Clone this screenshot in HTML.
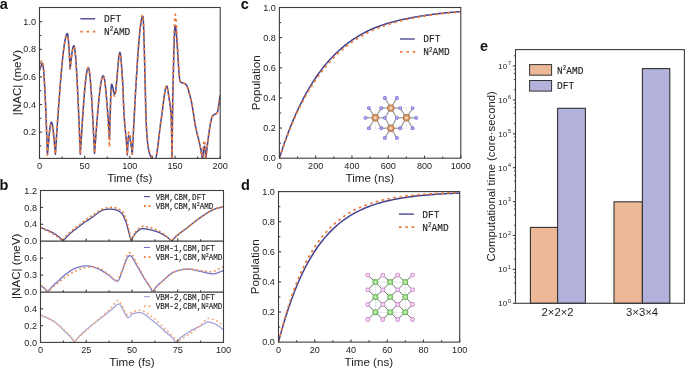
<!DOCTYPE html>
<html><head><meta charset="utf-8"><style>
html,body{margin:0;padding:0;background:#fff;width:685px;height:369px;overflow:hidden}
svg{display:block;will-change:transform}
</style></head><body>
<svg width="685" height="369" viewBox="0 0 685 369"><defs><clipPath id="ca"><rect x="39.5" y="7.5" width="180.7" height="150.9"/></clipPath></defs>
<g clip-path="url(#ca)">
<path d="M39.5,70.41 L39.83,69.59 L40.16,68.65 L40.49,67.66 L40.83,66.67 L41.16,65.73 L41.49,64.9 L41.82,64.25 L42.15,63.81 L42.48,63.65 L42.81,64.25 L43.14,65.98 L43.48,68.76 L43.81,72.52 L44.14,77.17 L44.47,82.63 L44.8,88.81 L45.13,95.65 L45.46,103.06 L45.79,110.95 L46.13,119.25 L46.46,127.87 L46.79,136.73 L47.12,145.76 L47.45,154.87 L47.78,150.79 L48.11,146.77 L48.44,142.86 L48.78,139.12 L49.11,135.61 L49.44,132.38 L49.77,129.5 L50.1,127.01 L50.43,124.97 L50.76,123.45 L51.09,122.5 L51.43,122.16 L51.76,122.49 L52.09,123.42 L52.42,124.92 L52.75,126.91 L53.08,129.34 L53.41,132.17 L53.75,135.33 L54.08,138.76 L54.41,142.42 L54.74,146.25 L55.07,150.19 L55.4,154.18 L55.77,148.7 L56.13,143.23 L56.49,137.78 L56.86,132.36 L57.22,126.98 L57.59,121.65 L57.95,116.38 L58.31,111.18 L58.68,106.06 L59.04,101.03 L59.41,96.11 L59.77,91.29 L60.14,86.6 L60.5,82.03 L60.86,77.61 L61.23,73.34 L61.59,69.22 L61.96,65.28 L62.32,61.53 L62.68,57.96 L63.05,54.59 L63.41,51.44 L63.78,48.5 L64.14,45.8 L64.51,43.34 L64.87,41.13 L65.23,39.19 L65.6,37.51 L65.96,36.12 L66.33,35.02 L66.69,34.22 L67.05,33.73 L67.42,33.57 L67.72,34.2 L68.02,36 L68.32,38.82 L68.62,42.52 L68.92,46.95 L69.23,51.96 L69.53,57.41 L69.83,63.15 L70.13,69.03 L70.47,65.86 L70.8,62.74 L71.14,59.73 L71.48,56.87 L71.81,54.23 L72.15,51.84 L72.49,49.78 L72.82,48.08 L73.16,46.8 L73.5,45.99 L73.83,45.71 L74.18,46.15 L74.52,47.45 L74.86,49.55 L75.2,52.42 L75.54,55.99 L75.89,60.23 L76.23,65.08 L76.57,70.51 L76.91,76.45 L77.26,82.87 L77.6,89.72 L77.94,96.95 L78.28,104.51 L78.63,112.35 L78.97,120.43 L79.31,128.7 L79.65,137.12 L80,145.62 L80.34,154.18 L80.68,148.54 L81.03,142.92 L81.38,137.35 L81.72,131.84 L82.07,126.41 L82.41,121.09 L82.76,115.9 L83.1,110.86 L83.45,105.99 L83.8,101.31 L84.14,96.84 L84.49,92.61 L84.83,88.63 L85.18,84.94 L85.52,81.54 L85.87,78.46 L86.21,75.72 L86.56,73.34 L86.91,71.35 L87.25,69.77 L87.6,68.61 L87.94,67.9 L88.29,67.65 L88.64,68.04 L88.98,69.18 L89.33,71.03 L89.67,73.54 L90.02,76.67 L90.37,80.37 L90.71,84.6 L91.06,89.32 L91.41,94.48 L91.75,100.03 L92.1,105.94 L92.45,112.16 L92.79,118.64 L93.14,125.35 L93.48,132.23 L93.83,139.24 L94.18,146.34 L94.52,153.49 L94.87,148.83 L95.22,144.19 L95.56,139.57 L95.91,135 L96.26,130.49 L96.6,126.06 L96.95,121.71 L97.3,117.47 L97.65,113.35 L97.99,109.36 L98.34,105.52 L98.69,101.85 L99.03,98.35 L99.38,95.05 L99.73,91.96 L100.07,89.09 L100.42,86.46 L100.77,84.08 L101.12,81.97 L101.46,80.15 L101.81,78.62 L102.16,77.41 L102.5,76.52 L102.85,75.98 L103.2,75.8 L103.55,76.09 L103.9,76.93 L104.25,78.3 L104.6,80.16 L104.95,82.48 L105.3,85.22 L105.66,88.36 L106.01,91.85 L106.36,95.68 L106.71,99.79 L107.06,104.17 L107.41,108.78 L107.76,113.59 L108.12,118.56 L108.47,123.66 L108.82,128.85 L109.17,134.12 L109.52,139.41 L109.82,127.7 L110.11,116.46 L110.41,106.18 L110.71,97.35 L111.01,90.45 L111.3,85.96 L111.6,84.35 L111.92,84.63 L112.23,85.37 L112.55,86.47 L112.86,87.8 L113.18,89.25 L113.5,90.7 L113.81,92.03 L114.13,93.13 L114.45,93.88 L114.76,94.15 L115.1,93.62 L115.45,92.12 L115.79,89.8 L116.13,86.82 L116.48,83.31 L116.82,79.43 L117.16,75.33 L117.51,71.16 L117.85,67.05 L118.19,63.18 L118.54,59.67 L118.88,56.68 L119.22,54.37 L119.57,52.87 L119.91,52.34 L120.24,53.01 L120.57,54.88 L120.89,57.75 L121.22,61.42 L121.55,65.67 L121.88,70.31 L122.2,75.14 L122.53,79.94 L122.79,84.53 L123.04,90.49 L123.3,97.17 L123.56,103.91 L123.81,110.07 L124.07,114.99 L124.39,119.77 L124.72,123.86 L125.04,127.46 L125.37,130.76 L125.69,133.94 L126.02,137.2 L126.34,140.73 L126.67,144.73 L126.99,149.37 L127.32,154.87 L127.61,149.19 L127.9,143.97 L128.19,139.68 L128.48,136.76 L128.77,135.69 L129.09,135.91 L129.41,136.55 L129.73,137.56 L130.05,138.91 L130.37,140.55 L130.69,142.44 L131.01,144.54 L131.33,146.8 L131.65,149.19 L131.97,151.67 L132.29,154.18 L132.64,147.3 L132.99,140.43 L133.35,133.59 L133.7,126.8 L134.05,120.07 L134.4,113.41 L134.76,106.85 L135.11,100.4 L135.46,94.06 L135.81,87.87 L136.17,81.83 L136.52,75.95 L136.87,70.26 L137.22,64.77 L137.57,59.49 L137.93,54.45 L138.28,49.64 L138.63,45.1 L138.98,40.84 L139.34,36.86 L139.69,33.19 L140.04,29.84 L140.39,26.83 L140.75,24.17 L141.1,21.88 L141.45,19.97 L141.8,18.45 L142.16,17.35 L142.51,16.68 L142.86,16.46 L143.2,18.67 L143.53,24.81 L143.87,34.1 L144.21,45.78 L144.54,59.08 L144.88,73.24 L145.22,87.48 L145.55,101.05 L145.89,113.17 L146.23,123.09 L146.56,130.03 L146.87,134.44 L147.17,138.36 L147.47,141.77 L147.77,144.63 L148.07,146.94 L148.37,148.66 L148.67,150.03 L148.97,151.3 L149.28,152.47 L149.58,153.52 L149.88,154.46 L150.18,155.28 L150.48,155.97 L150.78,156.52 L151.08,156.94 L151.41,157.31 L151.73,157.66 L152.05,158 L152.38,158.32 L152.7,158.61 L153.02,158.88 L153.35,159.12 L153.67,159.32 L154,159.48 L154.32,159.6 L154.64,159.67 L154.97,159.7 L155.31,159.46 L155.65,158.76 L155.99,157.65 L156.33,156.16 L156.67,154.35 L157.02,152.24 L157.36,149.9 L157.7,147.35 L158.04,144.63 L158.38,141.8 L158.72,138.9 L159.06,135.96 L159.4,133.02 L159.75,130.14 L160.09,127.35 L160.43,124.69 L160.77,122.22 L161.11,119.96 L161.46,117.65 L161.81,115.14 L162.16,112.48 L162.51,109.72 L162.86,106.9 L163.21,104.08 L163.56,101.3 L163.91,98.6 L164.26,96.04 L164.61,93.67 L164.96,91.53 L165.31,89.67 L165.66,88.14 L166.01,86.99 L166.36,86.26 L166.71,86.01 L167.01,86.33 L167.3,87.23 L167.59,88.59 L167.89,90.29 L168.18,92.23 L168.47,94.28 L168.77,96.34 L169.06,98.29 L169.35,100.01 L169.63,101.69 L169.91,103.46 L170.2,105.45 L170.48,107.81 L170.77,110.66 L171.05,114.16 L171.3,119.97 L171.55,130.08 L171.79,143.61 L172.04,159.7 L172.28,136.66 L172.51,117.09 L172.75,100.75 L172.98,87.43 L173.22,76.9 L173.49,66.25 L173.76,55.86 L174.03,46.24 L174.3,37.88 L174.57,31.3 L174.84,26.98 L175.12,25.43 L175.46,26.12 L175.8,28.09 L176.15,31.13 L176.49,35.06 L176.83,39.68 L177.18,44.79 L177.52,50.22 L177.86,55.77 L178.21,61.23 L178.55,66.44 L178.89,71.18 L179.24,75.27 L179.58,78.52 L179.92,80.74 L180.27,81.73 L180.61,82.02 L180.95,82.26 L181.3,82.46 L181.64,82.63 L181.99,82.78 L182.33,82.9 L182.68,83 L183.02,83.1 L183.37,83.2 L183.71,83.3 L184.05,83.41 L184.4,83.54 L184.74,83.69 L185.09,83.87 L185.43,84.09 L185.78,84.35 L186.12,84.7 L186.45,85.18 L186.79,85.79 L187.13,86.5 L187.47,87.33 L187.81,88.25 L188.15,89.25 L188.49,90.34 L188.83,91.49 L189.16,92.69 L189.5,93.95 L189.84,95.25 L190.18,96.57 L190.52,97.92 L190.86,99.28 L191.2,100.64 L191.54,102.12 L191.88,103.83 L192.21,105.73 L192.55,107.79 L192.89,109.95 L193.23,112.19 L193.57,114.47 L193.91,116.75 L194.25,118.98 L194.59,121.14 L194.92,123.18 L195.26,125.06 L195.61,126.85 L195.96,128.54 L196.31,130.14 L196.66,131.66 L197.01,133.13 L197.35,134.55 L197.7,135.93 L198.05,137.3 L198.4,138.66 L198.75,140.04 L199.1,141.43 L199.45,142.86 L199.79,144.35 L200.14,145.89 L200.49,147.52 L200.84,149.24 L201.19,151.06 L201.54,153.01 L201.88,155.08 L202.23,157.31 L202.58,159.7 L202.85,156.82 L203.12,154.06 L203.39,151.54 L203.67,149.37 L203.94,147.67 L204.21,146.57 L204.48,146.18 L204.73,146.93 L204.99,148.99 L205.24,152.02 L205.49,155.7 L205.74,159.7 L206.1,156.41 L206.46,153.17 L206.81,149.99 L207.17,146.89 L207.53,143.87 L207.89,140.94 L208.24,138.11 L208.6,135.4 L208.96,132.81 L209.31,130.36 L209.67,128.05 L210.03,125.9 L210.38,123.92 L210.74,122.11 L211.1,120.48 L211.45,119.06 L211.81,117.84 L212.17,116.84 L212.52,116.07 L212.88,115.54 L213.2,115.21 L213.52,114.94 L213.84,114.73 L214.16,114.56 L214.48,114.41 L214.8,114.28 L215.12,114.16 L215.44,114.04 L215.76,113.89 L216.08,113.72 L216.4,113.51 L216.72,113.24 L217.04,112.92 L217.35,112.29 L217.67,111.19 L217.99,109.69 L218.3,107.88 L218.62,105.85 L218.94,103.67 L219.25,101.44 L219.57,99.24 L219.88,97.15 L220.2,95.25" fill="none" stroke="#40408e" stroke-width="1.5" stroke-linejoin="round" stroke-linecap="butt" />
<path d="M39.5,68.62 L39.8,67.61 L40.1,66.46 L40.4,65.25 L40.7,64.03 L41.01,62.88 L41.31,61.87 L41.61,61.07 L41.91,60.53 L42.21,60.34 L42.56,60.96 L42.91,62.75 L43.26,65.63 L43.61,69.53 L43.96,74.34 L44.31,80 L44.66,86.42 L45.01,93.5 L45.35,101.18 L45.7,109.36 L46.05,117.95 L46.4,126.89 L46.75,136.08 L47.1,145.43 L47.45,154.87 L47.77,151 L48.08,147.18 L48.4,143.47 L48.72,139.92 L49.03,136.59 L49.35,133.52 L49.66,130.78 L49.98,128.42 L50.3,126.49 L50.61,125.04 L50.93,124.13 L51.25,123.82 L51.58,124.13 L51.91,125.01 L52.24,126.43 L52.57,128.32 L52.9,130.63 L53.23,133.31 L53.56,136.3 L53.9,139.56 L54.23,143.03 L54.56,146.66 L54.89,150.39 L55.22,154.18 L55.59,148.79 L55.95,143.4 L56.31,138.04 L56.68,132.71 L57.04,127.41 L57.41,122.17 L57.77,116.98 L58.13,111.87 L58.5,106.83 L58.86,101.89 L59.23,97.04 L59.59,92.3 L59.95,87.68 L60.32,83.19 L60.68,78.83 L61.05,74.63 L61.41,70.59 L61.78,66.71 L62.14,63.01 L62.5,59.5 L62.87,56.19 L63.23,53.08 L63.6,50.2 L63.96,47.54 L64.32,45.12 L64.69,42.94 L65.05,41.03 L65.42,39.38 L65.78,38.01 L66.15,36.93 L66.51,36.14 L66.87,35.66 L67.24,35.5 L67.56,36.09 L67.88,37.77 L68.2,40.41 L68.52,43.86 L68.84,47.99 L69.16,52.67 L69.49,57.76 L69.81,63.12 L70.13,68.62 L70.47,65.62 L70.8,62.66 L71.14,59.81 L71.48,57.11 L71.81,54.6 L72.15,52.35 L72.49,50.39 L72.82,48.78 L73.16,47.57 L73.5,46.81 L73.83,46.54 L74.18,47.03 L74.54,48.46 L74.89,50.78 L75.24,53.92 L75.59,57.84 L75.94,62.49 L76.29,67.79 L76.64,73.71 L77,80.18 L77.35,87.14 L77.7,94.56 L78.05,102.35 L78.4,110.48 L78.75,118.89 L79.1,127.52 L79.45,136.31 L79.81,145.22 L80.16,154.18 L80.51,148.54 L80.86,142.92 L81.22,137.35 L81.57,131.84 L81.93,126.41 L82.28,121.09 L82.63,115.9 L82.99,110.86 L83.34,105.99 L83.69,101.31 L84.05,96.84 L84.4,92.61 L84.75,88.63 L85.11,84.94 L85.46,81.54 L85.81,78.46 L86.17,75.72 L86.52,73.34 L86.87,71.35 L87.23,69.77 L87.58,68.61 L87.94,67.9 L88.29,67.65 L88.64,68.04 L88.98,69.18 L89.33,71.03 L89.67,73.54 L90.02,76.67 L90.37,80.37 L90.71,84.6 L91.06,89.32 L91.41,94.48 L91.75,100.03 L92.1,105.94 L92.45,112.16 L92.79,118.64 L93.14,125.35 L93.48,132.23 L93.83,139.24 L94.18,146.34 L94.52,153.49 L94.87,148.83 L95.22,144.19 L95.56,139.57 L95.91,135 L96.26,130.49 L96.6,126.06 L96.95,121.71 L97.3,117.47 L97.65,113.35 L97.99,109.36 L98.34,105.52 L98.69,101.85 L99.03,98.35 L99.38,95.05 L99.73,91.96 L100.07,89.09 L100.42,86.46 L100.77,84.08 L101.12,81.97 L101.46,80.15 L101.81,78.62 L102.16,77.41 L102.5,76.52 L102.85,75.98 L103.2,75.8 L103.55,76.12 L103.9,77.07 L104.25,78.61 L104.6,80.7 L104.95,83.3 L105.3,86.39 L105.66,89.91 L106.01,93.84 L106.36,98.13 L106.71,102.76 L107.06,107.68 L107.41,112.86 L107.76,118.26 L108.12,123.84 L108.47,129.57 L108.82,135.42 L109.17,141.33 L109.52,147.28 L109.82,135.24 L110.11,123.69 L110.41,113.13 L110.71,104.06 L111.01,96.97 L111.3,92.35 L111.6,90.7 L111.92,90.85 L112.23,91.27 L112.55,91.89 L112.86,92.64 L113.18,93.46 L113.5,94.28 L113.81,95.03 L114.13,95.65 L114.45,96.07 L114.76,96.22 L115.1,95.67 L115.45,94.14 L115.79,91.77 L116.13,88.72 L116.48,85.13 L116.82,81.16 L117.16,76.97 L117.51,72.69 L117.85,68.5 L118.19,64.53 L118.54,60.94 L118.88,57.89 L119.22,55.52 L119.57,53.99 L119.91,53.44 L120.24,54.11 L120.57,56 L120.89,58.89 L121.22,62.57 L121.55,66.83 L121.88,71.47 L122.2,76.28 L122.53,81.04 L122.79,85.53 L123.04,91.29 L123.3,97.73 L123.56,104.22 L123.81,110.18 L124.07,114.99 L124.39,119.72 L124.72,123.79 L125.04,127.38 L125.37,130.67 L125.69,133.86 L126.02,137.14 L126.34,140.69 L126.67,144.71 L126.99,149.37 L127.32,154.87 L127.61,148.13 L127.9,141.94 L128.19,136.84 L128.48,133.38 L128.77,132.1 L129.09,132.37 L129.41,133.13 L129.73,134.34 L130.05,135.95 L130.37,137.91 L130.69,140.16 L131.01,142.67 L131.33,145.37 L131.65,148.22 L131.97,151.18 L132.29,154.18 L132.64,147.21 L132.99,140.26 L133.35,133.34 L133.7,126.47 L134.05,119.66 L134.4,112.92 L134.76,106.28 L135.11,99.75 L135.46,93.34 L135.81,87.07 L136.17,80.96 L136.52,75.01 L136.87,69.25 L137.22,63.7 L137.57,58.36 L137.93,53.25 L138.28,48.39 L138.63,43.79 L138.98,39.47 L139.34,35.45 L139.69,31.73 L140.04,28.35 L140.39,25.3 L140.75,22.61 L141.1,20.28 L141.45,18.35 L141.8,16.82 L142.16,15.71 L142.51,15.03 L142.86,14.8 L143.2,17.05 L143.53,23.28 L143.87,32.7 L144.21,44.54 L144.54,58.01 L144.88,72.33 L145.22,86.72 L145.55,100.4 L145.89,112.58 L146.23,122.49 L146.56,129.34 L146.87,133.63 L147.17,137.43 L147.47,140.72 L147.77,143.47 L148.07,145.67 L148.37,147.28 L148.67,148.53 L148.97,149.65 L149.28,150.66 L149.58,151.56 L149.88,152.36 L150.18,153.09 L150.48,153.74 L150.78,154.33 L151.08,154.87 L151.41,155.43 L151.73,156 L152.05,156.57 L152.38,157.11 L152.7,157.64 L153.02,158.12 L153.35,158.56 L153.67,158.94 L154,159.26 L154.32,159.5 L154.64,159.65 L154.97,159.7 L155.31,159.46 L155.65,158.76 L155.99,157.65 L156.33,156.16 L156.67,154.35 L157.02,152.24 L157.36,149.9 L157.7,147.35 L158.04,144.63 L158.38,141.8 L158.72,138.9 L159.06,135.96 L159.4,133.02 L159.75,130.14 L160.09,127.35 L160.43,124.69 L160.77,122.22 L161.11,119.96 L161.46,117.65 L161.81,115.14 L162.16,112.48 L162.51,109.72 L162.86,106.9 L163.21,104.08 L163.56,101.3 L163.91,98.6 L164.26,96.04 L164.61,93.67 L164.96,91.53 L165.31,89.67 L165.66,88.14 L166.01,86.99 L166.36,86.26 L166.71,86.01 L167.01,86.33 L167.3,87.23 L167.59,88.59 L167.89,90.29 L168.18,92.23 L168.47,94.28 L168.77,96.34 L169.06,98.29 L169.35,100.01 L169.63,101.69 L169.91,103.46 L170.2,105.45 L170.48,107.81 L170.77,110.66 L171.05,114.16 L171.3,119.97 L171.55,130.08 L171.79,143.61 L172.04,159.7 L172.28,136.03 L172.51,116.08 L172.75,99.4 L172.98,85.56 L173.22,74.14 L173.49,62.03 L173.76,50.04 L174.03,38.8 L174.3,28.95 L174.57,21.13 L174.84,15.97 L175.12,14.11 L175.46,14.95 L175.8,17.32 L176.15,20.99 L176.49,25.72 L176.83,31.29 L177.18,37.46 L177.52,43.99 L177.86,50.67 L178.21,57.25 L178.55,63.5 L178.89,69.19 L179.24,74.09 L179.58,77.97 L179.92,80.59 L180.27,81.73 L180.61,82.02 L180.95,82.27 L181.3,82.47 L181.64,82.64 L181.99,82.78 L182.33,82.9 L182.68,83.01 L183.02,83.11 L183.37,83.2 L183.71,83.3 L184.05,83.41 L184.4,83.54 L184.74,83.69 L185.09,83.88 L185.43,84.09 L185.78,84.35 L186.12,84.7 L186.45,85.18 L186.79,85.79 L187.13,86.5 L187.47,87.33 L187.81,88.25 L188.15,89.25 L188.49,90.34 L188.83,91.49 L189.16,92.69 L189.5,93.95 L189.84,95.25 L190.18,96.57 L190.52,97.92 L190.86,99.28 L191.2,100.64 L191.54,102.11 L191.88,103.81 L192.21,105.7 L192.55,107.73 L192.89,109.87 L193.23,112.1 L193.57,114.36 L193.91,116.63 L194.25,118.87 L194.59,121.05 L194.92,123.12 L195.26,125.06 L195.61,126.89 L195.95,128.61 L196.29,130.25 L196.64,131.82 L196.98,133.33 L197.32,134.81 L197.67,136.25 L198.01,137.69 L198.35,139.13 L198.7,140.59 L199.04,142.09 L199.38,143.64 L199.73,145.26 L200.07,146.95 L200.41,148.75 L200.76,150.65 L201.1,152.69 L201.44,154.86 L201.79,157.19 L202.13,159.7 L202.42,156.04 L202.72,152.5 L203.01,149.19 L203.3,146.23 L203.6,143.72 L203.89,141.79 L204.19,140.54 L204.48,140.1 L204.73,141.2 L204.99,144.18 L205.24,148.57 L205.49,153.9 L205.74,159.7 L206.1,156.41 L206.46,153.17 L206.81,149.99 L207.17,146.89 L207.53,143.87 L207.89,140.94 L208.24,138.11 L208.6,135.4 L208.96,132.81 L209.31,130.36 L209.67,128.05 L210.03,125.9 L210.38,123.92 L210.74,122.11 L211.1,120.48 L211.45,119.06 L211.81,117.84 L212.17,116.84 L212.52,116.07 L212.88,115.54 L213.2,115.21 L213.52,114.94 L213.84,114.73 L214.16,114.56 L214.48,114.41 L214.8,114.28 L215.12,114.16 L215.44,114.04 L215.76,113.89 L216.08,113.72 L216.4,113.51 L216.72,113.24 L217.04,112.92 L217.35,112.29 L217.67,111.19 L217.99,109.69 L218.3,107.88 L218.62,105.85 L218.94,103.67 L219.25,101.44 L219.57,99.24 L219.88,97.15 L220.2,95.25" fill="none" stroke="#ea7a3a" stroke-width="1.7" stroke-linejoin="round" stroke-linecap="butt" stroke-dasharray="2.6,3.4" />
</g>
<rect x="39.5" y="7.5" width="180.7" height="150.9" fill="none" stroke="#3c3c3c" stroke-width="1.1"/>
<line x1="39.5" y1="158.4" x2="39.5" y2="155.8" stroke="#3c3c3c" stroke-width="1.1"/>
<text x="39.5" y="168.8" font-size="9.1" text-anchor="middle" font-family='"Liberation Sans", sans-serif' fill="#222222" font-weight="normal" >0</text>
<line x1="62.09" y1="158.4" x2="62.09" y2="156.6" stroke="#3c3c3c" stroke-width="1.1"/>
<line x1="84.67" y1="158.4" x2="84.67" y2="155.8" stroke="#3c3c3c" stroke-width="1.1"/>
<text x="84.67" y="168.8" font-size="9.1" text-anchor="middle" font-family='"Liberation Sans", sans-serif' fill="#222222" font-weight="normal" >50</text>
<line x1="107.26" y1="158.4" x2="107.26" y2="156.6" stroke="#3c3c3c" stroke-width="1.1"/>
<line x1="129.85" y1="158.4" x2="129.85" y2="155.8" stroke="#3c3c3c" stroke-width="1.1"/>
<text x="129.85" y="168.8" font-size="9.1" text-anchor="middle" font-family='"Liberation Sans", sans-serif' fill="#222222" font-weight="normal" >100</text>
<line x1="152.44" y1="158.4" x2="152.44" y2="156.6" stroke="#3c3c3c" stroke-width="1.1"/>
<line x1="175.03" y1="158.4" x2="175.03" y2="155.8" stroke="#3c3c3c" stroke-width="1.1"/>
<text x="175.03" y="168.8" font-size="9.1" text-anchor="middle" font-family='"Liberation Sans", sans-serif' fill="#222222" font-weight="normal" >150</text>
<line x1="197.61" y1="158.4" x2="197.61" y2="156.6" stroke="#3c3c3c" stroke-width="1.1"/>
<line x1="220.2" y1="158.4" x2="220.2" y2="155.8" stroke="#3c3c3c" stroke-width="1.1"/>
<text x="220.2" y="168.8" font-size="9.1" text-anchor="middle" font-family='"Liberation Sans", sans-serif' fill="#222222" font-weight="normal" >200</text>
<line x1="39.5" y1="145.9" x2="41.3" y2="145.9" stroke="#3c3c3c" stroke-width="1.1"/>
<line x1="39.5" y1="132.1" x2="42.1" y2="132.1" stroke="#3c3c3c" stroke-width="1.1"/>
<text x="36" y="135.25" font-size="9.1" text-anchor="end" font-family='"Liberation Sans", sans-serif' fill="#222222" font-weight="normal" >0.2</text>
<line x1="39.5" y1="118.3" x2="41.3" y2="118.3" stroke="#3c3c3c" stroke-width="1.1"/>
<line x1="39.5" y1="104.5" x2="42.1" y2="104.5" stroke="#3c3c3c" stroke-width="1.1"/>
<text x="36" y="107.65" font-size="9.1" text-anchor="end" font-family='"Liberation Sans", sans-serif' fill="#222222" font-weight="normal" >0.4</text>
<line x1="39.5" y1="90.7" x2="41.3" y2="90.7" stroke="#3c3c3c" stroke-width="1.1"/>
<line x1="39.5" y1="76.9" x2="42.1" y2="76.9" stroke="#3c3c3c" stroke-width="1.1"/>
<text x="36" y="80.05" font-size="9.1" text-anchor="end" font-family='"Liberation Sans", sans-serif' fill="#222222" font-weight="normal" >0.6</text>
<line x1="39.5" y1="63.1" x2="41.3" y2="63.1" stroke="#3c3c3c" stroke-width="1.1"/>
<line x1="39.5" y1="49.3" x2="42.1" y2="49.3" stroke="#3c3c3c" stroke-width="1.1"/>
<text x="36" y="52.45" font-size="9.1" text-anchor="end" font-family='"Liberation Sans", sans-serif' fill="#222222" font-weight="normal" >0.8</text>
<line x1="39.5" y1="35.5" x2="41.3" y2="35.5" stroke="#3c3c3c" stroke-width="1.1"/>
<line x1="39.5" y1="21.7" x2="42.1" y2="21.7" stroke="#3c3c3c" stroke-width="1.1"/>
<text x="36" y="24.85" font-size="9.1" text-anchor="end" font-family='"Liberation Sans", sans-serif' fill="#222222" font-weight="normal" >1.0</text>
<text x="129.8" y="181.8" font-size="11.6" text-anchor="middle" font-family='"Liberation Sans", sans-serif' fill="#222222" font-weight="normal" >Time (fs)</text>
<text x="21.3" y="82.5" font-size="11.6" text-anchor="middle" font-family='"Liberation Sans", sans-serif' fill="#222222" font-weight="normal" transform="rotate(-90 21.3 82.5)">|NAC| (meV)</text>
<line x1="80.3" y1="18.8" x2="95.1" y2="18.8" stroke="#42428e" stroke-width="1.35"/>
<line x1="80.3" y1="31.7" x2="95.3" y2="31.7" stroke="#ea7a3a" stroke-width="1.7" stroke-dasharray="2.5,3.8"/>
<text transform="translate(104 22.1) scale(1 1.1)" font-size="9.5" font-family='"Liberation Mono", monospace' fill="#262626" stroke="#262626" stroke-width="0.15">DFT</text>
<text transform="translate(104 35) scale(1 1.1)" font-size="9.5" font-family='"Liberation Mono", monospace' fill="#262626" stroke="#262626" stroke-width="0.15">N<tspan font-size="5.9" dy="-3.3">2</tspan><tspan dy="3.3">AMD</tspan></text>
<text x="-0.3" y="8.5" font-size="14.5" text-anchor="start" font-family='"Liberation Sans", sans-serif' fill="#111" font-weight="bold" >a</text>
<defs><clipPath id="cb1"><rect x="40.5" y="190.5" width="183.0" height="50.650000000000006"/></clipPath><clipPath id="cb2"><rect x="40.5" y="241.15" width="183.0" height="50.95000000000002"/></clipPath><clipPath id="cb3"><rect x="40.5" y="292.1" width="183.0" height="50.299999999999955"/></clipPath></defs>
<g clip-path="url(#cb1)">
<path d="M40.5,227.43 L40.87,227.59 L41.24,227.75 L41.61,227.9 L41.98,228.06 L42.35,228.21 L42.72,228.36 L43.09,228.51 L43.46,228.65 L43.83,228.8 L44.2,228.95 L44.57,229.09 L44.94,229.24 L45.31,229.38 L45.68,229.53 L46.04,229.67 L46.41,229.82 L46.78,229.97 L47.15,230.12 L47.52,230.27 L47.89,230.42 L48.26,230.58 L48.63,230.74 L49,230.9 L49.37,231.06 L49.74,231.23 L50.11,231.4 L50.48,231.57 L50.85,231.75 L51.22,231.94 L51.59,232.12 L51.96,232.31 L52.33,232.51 L52.7,232.71 L53.07,232.92 L53.43,233.13 L53.79,233.33 L54.15,233.55 L54.51,233.76 L54.88,233.98 L55.24,234.21 L55.6,234.44 L55.96,234.67 L56.32,234.91 L56.68,235.16 L57.04,235.41 L57.41,235.67 L57.77,235.93 L58.13,236.21 L58.49,236.49 L58.85,236.79 L59.21,237.09 L59.57,237.4 L59.93,237.72 L60.3,238.05 L60.66,238.4 L61.02,238.75 L61.38,239.12 L61.74,239.5 L62.1,239.89 L62.46,240.3 L62.83,240.72 L63.19,241.15 L63.55,240.66 L63.92,240.18 L64.28,239.71 L64.65,239.25 L65.01,238.8 L65.38,238.37 L65.74,237.94 L66.11,237.53 L66.47,237.12 L66.84,236.72 L67.21,236.34 L67.57,235.96 L67.94,235.59 L68.3,235.22 L68.67,234.87 L69.03,234.52 L69.4,234.18 L69.76,233.84 L70.13,233.52 L70.49,233.19 L70.86,232.88 L71.22,232.56 L71.59,232.26 L71.95,231.96 L72.32,231.66 L72.68,231.37 L73.05,231.08 L73.41,230.79 L73.78,230.51 L74.15,230.22 L74.51,229.95 L74.88,229.67 L75.24,229.39 L75.61,229.12 L75.97,228.85 L76.34,228.58 L76.7,228.3 L77.07,228.03 L77.43,227.76 L77.8,227.49 L78.16,227.21 L78.53,226.94 L78.89,226.66 L79.26,226.38 L79.62,226.1 L79.99,225.82 L80.35,225.53 L80.72,225.25 L81.08,224.97 L81.44,224.69 L81.8,224.42 L82.16,224.15 L82.52,223.88 L82.88,223.61 L83.25,223.35 L83.61,223.09 L83.97,222.83 L84.33,222.57 L84.69,222.32 L85.05,222.06 L85.41,221.81 L85.78,221.56 L86.14,221.32 L86.5,221.07 L86.86,220.83 L87.22,220.58 L87.58,220.34 L87.94,220.1 L88.31,219.86 L88.67,219.62 L89.03,219.38 L89.39,219.15 L89.75,218.91 L90.11,218.67 L90.47,218.43 L90.83,218.2 L91.2,217.96 L91.56,217.72 L91.92,217.48 L92.29,217.23 L92.66,216.97 L93.02,216.71 L93.39,216.44 L93.76,216.16 L94.12,215.88 L94.49,215.6 L94.86,215.32 L95.22,215.03 L95.59,214.75 L95.95,214.46 L96.32,214.18 L96.69,213.9 L97.05,213.61 L97.42,213.34 L97.79,213.06 L98.15,212.79 L98.52,212.53 L98.89,212.27 L99.25,212.02 L99.62,211.77 L99.99,211.54 L100.35,211.31 L100.72,211.1 L101.08,210.89 L101.45,210.69 L101.82,210.51 L102.18,210.34 L102.55,210.19 L102.92,210.04 L103.28,209.92 L103.65,209.81 L104.02,209.71 L104.38,209.64 L104.75,209.58 L105.09,209.53 L105.42,209.49 L105.76,209.45 L106.1,209.41 L106.44,209.38 L106.77,209.35 L107.11,209.32 L107.45,209.29 L107.78,209.27 L108.12,209.25 L108.46,209.23 L108.8,209.22 L109.13,209.21 L109.47,209.2 L109.81,209.2 L110.15,209.2 L110.48,209.21 L110.82,209.22 L111.16,209.23 L111.5,209.25 L111.83,209.27 L112.17,209.29 L112.51,209.32 L112.84,209.35 L113.18,209.38 L113.52,209.42 L113.86,209.45 L114.19,209.49 L114.53,209.53 L114.87,209.58 L115.21,209.63 L115.55,209.7 L115.9,209.79 L116.24,209.9 L116.58,210.01 L116.92,210.15 L117.26,210.3 L117.61,210.46 L117.95,210.64 L118.29,210.83 L118.63,211.03 L118.98,211.25 L119.32,211.47 L119.66,211.71 L120,211.96 L120.35,212.21 L120.69,212.48 L121.03,212.76 L121.37,213.04 L121.71,213.36 L122.04,213.76 L122.38,214.22 L122.72,214.75 L123.05,215.34 L123.39,215.98 L123.72,216.67 L124.06,217.41 L124.39,218.17 L124.73,218.97 L125.06,219.8 L125.4,220.64 L125.74,221.5 L126.07,222.37 L126.42,223.33 L126.76,224.42 L127.11,225.61 L127.45,226.88 L127.8,228.22 L128.14,229.61 L128.49,231.02 L128.83,232.43 L129.18,233.83 L129.52,235.2 L129.87,236.51 L130.12,237.37 L130.37,238.15 L130.63,238.96 L130.88,239.93 L131.13,241.15 L131.48,240.27 L131.83,239.43 L132.18,238.64 L132.53,237.9 L132.87,237.2 L133.22,236.54 L133.57,235.92 L133.92,235.35 L134.27,234.81 L134.62,234.32 L134.96,233.86 L135.31,233.44 L135.66,233.06 L136.01,232.71 L136.35,232.38 L136.69,232.06 L137.03,231.74 L137.38,231.42 L137.72,231.11 L138.06,230.81 L138.4,230.52 L138.74,230.24 L139.08,229.98 L139.42,229.73 L139.76,229.51 L140.11,229.31 L140.45,229.13 L140.79,228.98 L141.13,228.86 L141.47,228.77 L141.81,228.72 L142.15,228.7 L142.52,228.7 L142.88,228.71 L143.24,228.72 L143.6,228.74 L143.96,228.77 L144.32,228.79 L144.68,228.83 L145.05,228.86 L145.41,228.91 L145.77,228.95 L146.13,229 L146.49,229.06 L146.85,229.11 L147.21,229.18 L147.58,229.24 L147.94,229.31 L148.3,229.38 L148.66,229.45 L149.02,229.53 L149.38,229.61 L149.74,229.69 L150.1,229.78 L150.47,229.86 L150.83,229.95 L151.19,230.04 L151.55,230.14 L151.91,230.23 L152.27,230.33 L152.63,230.42 L153,230.52 L153.36,230.62 L153.72,230.72 L154.08,230.82 L154.44,230.92 L154.8,231.02 L155.17,231.12 L155.53,231.23 L155.9,231.35 L156.26,231.47 L156.63,231.59 L156.99,231.72 L157.36,231.86 L157.73,232 L158.09,232.14 L158.46,232.29 L158.82,232.45 L159.19,232.61 L159.55,232.77 L159.92,232.94 L160.28,233.11 L160.65,233.29 L161.01,233.48 L161.38,233.66 L161.74,233.86 L162.11,234.06 L162.47,234.26 L162.84,234.47 L163.2,234.68 L163.57,234.9 L163.93,235.12 L164.3,235.34 L164.66,235.57 L165.03,235.81 L165.4,236.05 L165.76,236.29 L166.13,236.54 L166.49,236.8 L166.86,237.06 L167.22,237.32 L167.59,237.59 L167.95,237.86 L168.32,238.14 L168.68,238.42 L169.05,238.7 L169.41,238.99 L169.78,239.29 L170.14,239.59 L170.51,239.89 L170.87,240.2 L171.24,240.51 L171.6,240.83 L171.97,241.15 L172.34,240.67 L172.71,240.21 L173.08,239.75 L173.45,239.31 L173.82,238.89 L174.19,238.47 L174.56,238.06 L174.93,237.67 L175.3,237.29 L175.67,236.91 L176.04,236.55 L176.41,236.19 L176.78,235.85 L177.15,235.51 L177.52,235.18 L177.89,234.85 L178.26,234.54 L178.63,234.23 L179,233.92 L179.37,233.62 L179.74,233.33 L180.11,233.04 L180.48,232.75 L180.85,232.47 L181.21,232.19 L181.58,231.92 L181.95,231.64 L182.32,231.37 L182.69,231.1 L183.06,230.83 L183.43,230.56 L183.8,230.29 L184.17,230.03 L184.54,229.76 L184.91,229.49 L185.28,229.21 L185.65,228.94 L186.02,228.66 L186.39,228.38 L186.76,228.1 L187.13,227.81 L187.5,227.52 L187.87,227.22 L188.24,226.93 L188.6,226.63 L188.97,226.34 L189.33,226.04 L189.7,225.75 L190.07,225.45 L190.43,225.16 L190.8,224.87 L191.16,224.57 L191.53,224.28 L191.89,223.99 L192.26,223.7 L192.62,223.41 L192.99,223.13 L193.36,222.84 L193.72,222.55 L194.09,222.27 L194.45,221.98 L194.82,221.7 L195.18,221.42 L195.55,221.14 L195.91,220.86 L196.28,220.58 L196.65,220.31 L197.01,220.03 L197.38,219.76 L197.74,219.49 L198.11,219.22 L198.47,218.95 L198.84,218.68 L199.21,218.42 L199.57,218.16 L199.94,217.89 L200.3,217.64 L200.67,217.38 L201.03,217.12 L201.4,216.87 L201.76,216.62 L202.13,216.37 L202.5,216.13 L202.86,215.88 L203.23,215.64 L203.59,215.4 L203.95,215.17 L204.32,214.93 L204.68,214.69 L205.04,214.46 L205.4,214.22 L205.76,213.98 L206.12,213.74 L206.48,213.51 L206.85,213.27 L207.21,213.04 L207.57,212.81 L207.93,212.58 L208.29,212.36 L208.65,212.13 L209.01,211.91 L209.37,211.69 L209.74,211.48 L210.1,211.27 L210.46,211.07 L210.82,210.87 L211.18,210.67 L211.54,210.48 L211.9,210.3 L212.27,210.12 L212.63,209.95 L212.99,209.78 L213.35,209.63 L213.71,209.48 L214.07,209.33 L214.43,209.2 L214.8,209.07 L215.16,208.95 L215.52,208.83 L215.89,208.71 L216.25,208.6 L216.61,208.5 L216.97,208.4 L217.34,208.3 L217.7,208.2 L218.06,208.11 L218.42,208.02 L218.79,207.93 L219.15,207.84 L219.51,207.76 L219.87,207.67 L220.24,207.59 L220.6,207.5 L220.96,207.42 L221.32,207.33 L221.69,207.25 L222.05,207.16 L222.41,207.07 L222.77,206.98 L223.14,206.89 L223.5,206.79" fill="none" stroke="#4a4a94" stroke-width="1.3" stroke-linejoin="round" stroke-linecap="butt" />
<path d="M40.5,227.22 L40.87,227.42 L41.24,227.61 L41.61,227.81 L41.98,228 L42.35,228.19 L42.72,228.38 L43.09,228.56 L43.46,228.75 L43.83,228.93 L44.2,229.12 L44.57,229.3 L44.94,229.49 L45.31,229.67 L45.68,229.86 L46.04,230.04 L46.41,230.23 L46.78,230.42 L47.15,230.61 L47.52,230.8 L47.89,230.99 L48.26,231.18 L48.63,231.38 L49,231.58 L49.37,231.78 L49.74,231.98 L50.11,232.19 L50.48,232.4 L50.85,232.61 L51.22,232.83 L51.59,233.05 L51.96,233.27 L52.33,233.5 L52.7,233.74 L53.07,233.97 L53.43,234.21 L53.79,234.44 L54.15,234.68 L54.51,234.91 L54.88,235.15 L55.24,235.39 L55.6,235.63 L55.96,235.87 L56.32,236.13 L56.68,236.38 L57.04,236.65 L57.41,236.92 L57.77,237.21 L58.13,237.5 L58.49,237.8 L58.85,238.11 L59.21,238.44 L59.57,238.78 L59.93,239.13 L60.3,239.5 L60.66,239.89 L61.02,240.29 L61.38,240.71 L61.74,241.15 L62.11,240.64 L62.49,240.14 L62.86,239.66 L63.23,239.18 L63.6,238.72 L63.98,238.26 L64.35,237.82 L64.72,237.38 L65.09,236.96 L65.46,236.54 L65.84,236.14 L66.21,235.74 L66.58,235.35 L66.95,234.97 L67.33,234.59 L67.7,234.23 L68.07,233.87 L68.44,233.51 L68.81,233.17 L69.19,232.83 L69.56,232.49 L69.93,232.16 L70.3,231.84 L70.68,231.52 L71.05,231.21 L71.42,230.9 L71.79,230.59 L72.16,230.29 L72.54,229.99 L72.91,229.69 L73.28,229.4 L73.65,229.11 L74.03,228.82 L74.4,228.54 L74.77,228.25 L75.14,227.97 L75.52,227.69 L75.89,227.41 L76.26,227.13 L76.63,226.84 L77,226.56 L77.38,226.28 L77.75,226 L78.12,225.72 L78.49,225.43 L78.87,225.14 L79.24,224.85 L79.61,224.56 L79.98,224.27 L80.35,223.97 L80.72,223.67 L81.1,223.38 L81.47,223.09 L81.84,222.79 L82.21,222.5 L82.58,222.21 L82.95,221.93 L83.32,221.64 L83.69,221.36 L84.06,221.08 L84.43,220.8 L84.8,220.52 L85.17,220.24 L85.54,219.97 L85.91,219.69 L86.28,219.42 L86.66,219.15 L87.03,218.88 L87.4,218.62 L87.77,218.35 L88.14,218.09 L88.51,217.83 L88.88,217.57 L89.25,217.31 L89.62,217.06 L89.99,216.81 L90.36,216.56 L90.73,216.31 L91.1,216.06 L91.47,215.82 L91.84,215.58 L92.22,215.34 L92.59,215.1 L92.96,214.86 L93.33,214.63 L93.7,214.4 L94.07,214.17 L94.44,213.94 L94.81,213.71 L95.17,213.49 L95.53,213.27 L95.89,213.04 L96.26,212.81 L96.62,212.58 L96.98,212.34 L97.34,212.11 L97.7,211.87 L98.06,211.64 L98.42,211.4 L98.79,211.17 L99.15,210.94 L99.51,210.72 L99.87,210.49 L100.23,210.28 L100.59,210.06 L100.95,209.86 L101.32,209.66 L101.68,209.46 L102.04,209.28 L102.4,209.1 L102.76,208.94 L103.12,208.78 L103.48,208.63 L103.85,208.5 L104.21,208.38 L104.57,208.26 L104.93,208.17 L105.29,208.08 L105.65,208.02 L106,207.96 L106.36,207.9 L106.71,207.85 L107.06,207.79 L107.41,207.74 L107.76,207.69 L108.11,207.65 L108.46,207.61 L108.81,207.57 L109.17,207.53 L109.52,207.5 L109.87,207.47 L110.22,207.44 L110.57,207.42 L110.92,207.41 L111.27,207.39 L111.63,207.39 L111.98,207.38 L112.33,207.39 L112.69,207.41 L113.04,207.43 L113.4,207.47 L113.75,207.52 L114.11,207.57 L114.46,207.64 L114.82,207.71 L115.17,207.8 L115.53,207.89 L115.88,207.99 L116.24,208.1 L116.59,208.22 L116.95,208.35 L117.3,208.48 L117.66,208.62 L118.01,208.77 L118.37,208.92 L118.72,209.08 L119.08,209.25 L119.43,209.42 L119.79,209.59 L120.14,209.78 L120.5,209.96 L120.85,210.16 L121.21,210.35 L121.56,210.55 L121.92,210.76 L122.26,211.02 L122.61,211.39 L122.96,211.87 L123.31,212.43 L123.65,213.08 L124,213.8 L124.35,214.59 L124.7,215.42 L125.04,216.3 L125.39,217.21 L125.74,218.15 L126.09,219.09 L126.43,220.05 L126.76,221.02 L127.09,222.12 L127.42,223.34 L127.75,224.66 L128.08,226.04 L128.4,227.48 L128.73,228.96 L129.06,230.45 L129.39,231.94 L129.72,233.4 L130.05,234.82 L130.34,235.96 L130.63,237.02 L130.91,238.14 L131.2,239.47 L131.49,241.15 L131.84,240.09 L132.19,239.09 L132.54,238.13 L132.89,237.24 L133.24,236.39 L133.58,235.59 L133.93,234.85 L134.28,234.15 L134.63,233.51 L134.98,232.91 L135.33,232.37 L135.67,231.87 L136.02,231.42 L136.37,231.02 L136.72,230.64 L137.07,230.26 L137.43,229.88 L137.78,229.51 L138.13,229.15 L138.48,228.8 L138.83,228.46 L139.18,228.14 L139.53,227.84 L139.89,227.56 L140.24,227.3 L140.59,227.07 L140.94,226.87 L141.29,226.7 L141.64,226.56 L141.99,226.46 L142.34,226.4 L142.7,226.38 L143.06,226.38 L143.42,226.39 L143.78,226.41 L144.14,226.43 L144.5,226.46 L144.86,226.5 L145.23,226.54 L145.59,226.59 L145.95,226.64 L146.31,226.7 L146.67,226.76 L147.03,226.83 L147.39,226.91 L147.76,226.99 L148.12,227.07 L148.48,227.15 L148.84,227.25 L149.2,227.34 L149.56,227.44 L149.92,227.54 L150.29,227.64 L150.65,227.75 L151.01,227.86 L151.37,227.98 L151.73,228.09 L152.09,228.21 L152.45,228.33 L152.82,228.45 L153.18,228.57 L153.54,228.7 L153.9,228.82 L154.26,228.95 L154.62,229.08 L154.98,229.2 L155.35,229.33 L155.72,229.47 L156.08,229.61 L156.45,229.76 L156.82,229.91 L157.19,230.08 L157.56,230.24 L157.93,230.42 L158.3,230.6 L158.67,230.79 L159.04,230.99 L159.41,231.19 L159.78,231.4 L160.15,231.62 L160.52,231.84 L160.89,232.07 L161.26,232.31 L161.63,232.55 L162,232.8 L162.37,233.06 L162.74,233.32 L163.11,233.59 L163.48,233.87 L163.85,234.15 L164.22,234.44 L164.59,234.74 L164.96,235.04 L165.33,235.35 L165.7,235.66 L166.07,235.99 L166.44,236.31 L166.81,236.65 L167.18,236.99 L167.55,237.34 L167.92,237.69 L168.29,238.05 L168.66,238.42 L169.03,238.79 L169.4,239.17 L169.77,239.55 L170.14,239.94 L170.51,240.34 L170.88,240.74 L171.25,241.15 L171.62,240.69 L171.99,240.25 L172.36,239.81 L172.72,239.39 L173.09,238.98 L173.46,238.58 L173.83,238.2 L174.2,237.82 L174.57,237.45 L174.94,237.09 L175.31,236.74 L175.68,236.4 L176.05,236.06 L176.42,235.74 L176.79,235.42 L177.16,235.11 L177.53,234.8 L177.9,234.5 L178.27,234.21 L178.64,233.92 L179.01,233.64 L179.37,233.36 L179.74,233.08 L180.11,232.81 L180.48,232.54 L180.85,232.28 L181.22,232.02 L181.59,231.75 L181.96,231.49 L182.33,231.24 L182.7,230.98 L183.07,230.72 L183.44,230.46 L183.81,230.21 L184.18,229.95 L184.55,229.69 L184.92,229.43 L185.29,229.16 L185.65,228.9 L186.02,228.63 L186.39,228.35 L186.76,228.08 L187.13,227.8 L187.5,227.51 L187.87,227.22 L188.24,226.93 L188.6,226.64 L188.97,226.35 L189.33,226.06 L189.7,225.77 L190.07,225.48 L190.43,225.19 L190.8,224.9 L191.16,224.61 L191.53,224.32 L191.89,224.03 L192.26,223.75 L192.62,223.46 L192.99,223.17 L193.36,222.89 L193.72,222.6 L194.09,222.32 L194.45,222.03 L194.82,221.75 L195.18,221.47 L195.55,221.19 L195.91,220.91 L196.28,220.63 L196.65,220.35 L197.01,220.07 L197.38,219.8 L197.74,219.53 L198.11,219.26 L198.47,218.99 L198.84,218.72 L199.21,218.45 L199.57,218.18 L199.94,217.92 L200.3,217.66 L200.67,217.4 L201.03,217.14 L201.4,216.89 L201.76,216.63 L202.13,216.38 L202.5,216.13 L202.86,215.89 L203.23,215.64 L203.59,215.4 L203.95,215.16 L204.32,214.93 L204.68,214.69 L205.04,214.44 L205.4,214.2 L205.76,213.96 L206.12,213.72 L206.48,213.48 L206.85,213.25 L207.21,213.01 L207.57,212.77 L207.93,212.54 L208.29,212.31 L208.65,212.08 L209.01,211.86 L209.37,211.64 L209.74,211.42 L210.1,211.21 L210.46,211 L210.82,210.79 L211.18,210.59 L211.54,210.4 L211.9,210.21 L212.27,210.03 L212.63,209.85 L212.99,209.68 L213.35,209.52 L213.71,209.36 L214.07,209.21 L214.43,209.07 L214.8,208.94 L215.16,208.81 L215.52,208.68 L215.89,208.57 L216.25,208.45 L216.61,208.34 L216.97,208.23 L217.34,208.13 L217.7,208.03 L218.06,207.93 L218.42,207.83 L218.79,207.74 L219.15,207.65 L219.51,207.56 L219.87,207.47 L220.24,207.38 L220.6,207.29 L220.96,207.2 L221.32,207.11 L221.69,207.02 L222.05,206.93 L222.41,206.83 L222.77,206.74 L223.14,206.64 L223.5,206.54" fill="none" stroke="#e8803c" stroke-width="1.6" stroke-linejoin="round" stroke-linecap="butt" stroke-dasharray="2,2.5" />
</g>
<g clip-path="url(#cb2)">
<path d="M40.5,285.31 L40.85,285.62 L41.2,285.93 L41.55,286.22 L41.9,286.5 L42.24,286.78 L42.59,287.05 L42.94,287.32 L43.29,287.59 L43.64,287.86 L43.99,288.14 L44.34,288.42 L44.69,288.71 L45.04,289.02 L45.39,289.33 L45.73,289.66 L46.08,290.01 L46.43,290.38 L46.78,290.77 L47.13,291.19 L47.48,291.63 L47.83,292.1 L48.2,291.53 L48.56,290.98 L48.93,290.45 L49.3,289.94 L49.67,289.45 L50.03,288.99 L50.4,288.54 L50.77,288.1 L51.14,287.68 L51.5,287.28 L51.87,286.89 L52.24,286.51 L52.61,286.14 L52.97,285.78 L53.34,285.43 L53.71,285.09 L54.08,284.75 L54.45,284.42 L54.81,284.09 L55.18,283.77 L55.55,283.44 L55.92,283.12 L56.28,282.8 L56.65,282.47 L57.02,282.14 L57.39,281.81 L57.75,281.47 L58.12,281.13 L58.49,280.78 L58.85,280.43 L59.21,280.08 L59.57,279.73 L59.93,279.38 L60.3,279.03 L60.66,278.68 L61.02,278.33 L61.38,277.99 L61.74,277.65 L62.1,277.31 L62.46,276.98 L62.83,276.65 L63.19,276.33 L63.55,276.01 L63.91,275.7 L64.27,275.39 L64.63,275.09 L64.99,274.79 L65.36,274.51 L65.72,274.23 L66.08,273.96 L66.44,273.7 L66.8,273.44 L67.16,273.19 L67.52,272.93 L67.89,272.67 L68.25,272.41 L68.61,272.16 L68.97,271.9 L69.33,271.65 L69.69,271.4 L70.05,271.15 L70.42,270.91 L70.78,270.66 L71.14,270.43 L71.5,270.2 L71.86,269.97 L72.22,269.75 L72.58,269.54 L72.95,269.33 L73.31,269.13 L73.67,268.94 L74.03,268.76 L74.39,268.59 L74.75,268.42 L75.11,268.27 L75.48,268.12 L75.84,267.99 L76.2,267.87 L76.56,267.76 L76.92,267.65 L77.28,267.55 L77.64,267.45 L78.01,267.35 L78.37,267.24 L78.73,267.15 L79.09,267.05 L79.45,266.95 L79.81,266.86 L80.17,266.77 L80.53,266.68 L80.9,266.59 L81.26,266.51 L81.62,266.43 L81.98,266.36 L82.34,266.28 L82.7,266.22 L83.06,266.16 L83.43,266.1 L83.79,266.04 L84.15,266 L84.51,265.95 L84.87,265.92 L85.23,265.89 L85.59,265.86 L85.96,265.85 L86.32,265.84 L86.68,265.83 L87.05,265.84 L87.41,265.85 L87.78,265.88 L88.15,265.91 L88.52,265.95 L88.88,266 L89.25,266.06 L89.62,266.12 L89.99,266.19 L90.35,266.27 L90.72,266.36 L91.09,266.45 L91.46,266.54 L91.82,266.65 L92.19,266.75 L92.56,266.86 L92.93,266.98 L93.29,267.1 L93.66,267.22 L94.03,267.34 L94.39,267.47 L94.76,267.6 L95.13,267.73 L95.5,267.86 L95.86,267.99 L96.23,268.13 L96.6,268.26 L96.97,268.4 L97.33,268.53 L97.7,268.66 L98.07,268.8 L98.44,268.95 L98.8,269.11 L99.17,269.27 L99.54,269.45 L99.91,269.64 L100.27,269.83 L100.64,270.03 L101.01,270.24 L101.38,270.45 L101.74,270.67 L102.11,270.89 L102.48,271.12 L102.85,271.36 L103.21,271.6 L103.58,271.84 L103.95,272.08 L104.32,272.33 L104.68,272.58 L105.05,272.83 L105.42,273.08 L105.78,273.33 L106.15,273.58 L106.52,273.83 L106.89,274.08 L107.25,274.33 L107.62,274.57 L107.99,274.81 L108.36,275.05 L108.72,275.29 L109.09,275.53 L109.45,275.79 L109.81,276.06 L110.17,276.36 L110.53,276.66 L110.89,276.97 L111.25,277.29 L111.62,277.61 L111.98,277.94 L112.34,278.26 L112.7,278.58 L113.06,278.89 L113.42,279.19 L113.78,279.48 L114.15,279.76 L114.51,280.01 L114.87,280.25 L115.23,280.46 L115.59,280.65 L115.95,280.81 L116.31,280.94 L116.68,281.04 L117.04,281.1 L117.4,281.12 L117.75,281.03 L118.1,280.78 L118.45,280.38 L118.8,279.85 L119.15,279.2 L119.51,278.45 L119.86,277.61 L120.21,276.69 L120.56,275.71 L120.91,274.69 L121.26,273.63 L121.61,272.56 L121.97,271.49 L122.32,270.43 L122.67,269.4 L123.02,268.41 L123.37,267.48 L123.72,266.62 L124.05,265.82 L124.39,264.97 L124.72,264.08 L125.05,263.18 L125.38,262.27 L125.71,261.38 L126.04,260.52 L126.37,259.7 L126.7,258.95 L127.04,258.27 L127.37,257.69 L127.7,257.23 L127.98,256.88 L128.27,256.55 L128.55,256.24 L128.83,255.98 L129.12,255.77 L129.4,255.63 L129.69,255.59 L130.04,255.63 L130.39,255.75 L130.75,255.95 L131.1,256.22 L131.45,256.55 L131.8,256.94 L132.16,257.39 L132.51,257.88 L132.86,258.41 L133.22,258.98 L133.57,259.58 L133.92,260.21 L134.28,260.85 L134.63,261.51 L134.98,262.18 L135.34,262.85 L135.69,263.52 L136.04,264.18 L136.4,264.82 L136.75,265.45 L137.1,266.05 L137.46,266.62 L137.81,267.18 L138.16,267.76 L138.51,268.35 L138.86,268.95 L139.21,269.56 L139.56,270.17 L139.92,270.8 L140.27,271.43 L140.62,272.07 L140.97,272.7 L141.32,273.34 L141.67,273.98 L142.02,274.62 L142.37,275.25 L142.73,275.88 L143.08,276.5 L143.43,277.12 L143.78,277.72 L144.14,278.32 L144.5,278.9 L144.86,279.46 L145.23,280 L145.59,280.52 L145.95,281.04 L146.31,281.54 L146.67,282.04 L147.03,282.54 L147.39,283.04 L147.76,283.55 L148.12,284.06 L148.48,284.59 L148.84,285.13 L149.2,285.69 L149.56,286.27 L149.92,286.88 L150.29,287.51 L150.65,288.18 L151.01,288.88 L151.37,289.62 L151.73,290.4 L152.09,291.23 L152.45,292.1 L152.82,291.51 L153.18,290.95 L153.54,290.41 L153.9,289.89 L154.26,289.38 L154.62,288.9 L154.98,288.43 L155.35,287.98 L155.71,287.54 L156.07,287.12 L156.43,286.72 L156.79,286.32 L157.15,285.94 L157.51,285.57 L157.88,285.21 L158.24,284.85 L158.6,284.51 L158.96,284.17 L159.32,283.83 L159.68,283.51 L160.04,283.18 L160.4,282.86 L160.77,282.54 L161.13,282.23 L161.49,281.91 L161.85,281.59 L162.21,281.27 L162.57,280.95 L162.93,280.62 L163.3,280.29 L163.66,279.96 L164.02,279.63 L164.38,279.29 L164.74,278.96 L165.1,278.62 L165.46,278.28 L165.83,277.95 L166.19,277.61 L166.55,277.28 L166.91,276.95 L167.27,276.63 L167.63,276.3 L167.99,275.99 L168.36,275.67 L168.72,275.36 L169.08,275.06 L169.44,274.77 L169.8,274.48 L170.16,274.2 L170.52,273.92 L170.89,273.66 L171.25,273.4 L171.61,273.16 L171.97,272.93 L172.33,272.7 L172.69,272.49 L173.05,272.29 L173.42,272.1 L173.78,271.93 L174.14,271.77 L174.5,271.63 L174.86,271.5 L175.22,271.38 L175.58,271.27 L175.95,271.17 L176.31,271.06 L176.67,270.96 L177.03,270.86 L177.39,270.76 L177.75,270.66 L178.11,270.56 L178.48,270.47 L178.84,270.38 L179.2,270.28 L179.56,270.2 L179.92,270.11 L180.28,270.03 L180.64,269.94 L181,269.87 L181.37,269.79 L181.73,269.72 L182.09,269.65 L182.45,269.58 L182.81,269.52 L183.17,269.46 L183.53,269.4 L183.9,269.35 L184.26,269.3 L184.62,269.26 L184.98,269.22 L185.34,269.18 L185.7,269.15 L186.06,269.12 L186.43,269.1 L186.79,269.08 L187.15,269.07 L187.51,269.06 L187.87,269.06 L188.24,269.06 L188.6,269.07 L188.97,269.09 L189.34,269.12 L189.71,269.15 L190.07,269.19 L190.44,269.23 L190.81,269.28 L191.17,269.34 L191.54,269.4 L191.91,269.46 L192.27,269.53 L192.64,269.6 L193.01,269.68 L193.37,269.76 L193.74,269.84 L194.11,269.92 L194.47,270.01 L194.84,270.1 L195.21,270.19 L195.57,270.28 L195.94,270.37 L196.31,270.46 L196.67,270.55 L197.04,270.64 L197.41,270.73 L197.77,270.82 L198.14,270.91 L198.51,270.99 L198.87,271.08 L199.24,271.16 L199.61,271.23 L199.97,271.31 L200.34,271.38 L200.7,271.45 L201.06,271.52 L201.42,271.6 L201.79,271.68 L202.15,271.77 L202.51,271.85 L202.87,271.94 L203.23,272.03 L203.59,272.12 L203.95,272.21 L204.32,272.3 L204.68,272.4 L205.04,272.49 L205.4,272.58 L205.76,272.67 L206.12,272.76 L206.48,272.85 L206.85,272.94 L207.21,273.03 L207.57,273.11 L207.93,273.19 L208.29,273.26 L208.65,273.34 L209.01,273.41 L209.37,273.47 L209.74,273.53 L210.1,273.59 L210.46,273.64 L210.82,273.68 L211.18,273.72 L211.54,273.75 L211.9,273.78 L212.27,273.8 L212.63,273.81 L212.99,273.81 L213.35,273.81 L213.71,273.78 L214.08,273.75 L214.44,273.7 L214.8,273.64 L215.16,273.57 L215.53,273.48 L215.89,273.39 L216.25,273.29 L216.61,273.18 L216.98,273.06 L217.34,272.94 L217.7,272.81 L218.06,272.67 L218.43,272.53 L218.79,272.39 L219.15,272.25 L219.51,272.1 L219.88,271.95 L220.24,271.8 L220.6,271.66 L220.96,271.51 L221.33,271.36 L221.69,271.22 L222.05,271.09 L222.41,270.95 L222.78,270.82 L223.14,270.7 L223.5,270.59" fill="none" stroke="#7474c8" stroke-width="1.3" stroke-linejoin="round" stroke-linecap="butt" />
<path d="M40.5,284.74 L40.86,285.07 L41.22,285.38 L41.57,285.69 L41.93,285.98 L42.29,286.27 L42.65,286.55 L43,286.83 L43.36,287.11 L43.72,287.39 L44.08,287.67 L44.44,287.96 L44.79,288.26 L45.15,288.56 L45.51,288.88 L45.87,289.21 L46.22,289.56 L46.58,289.93 L46.94,290.31 L47.3,290.72 L47.65,291.15 L48.01,291.61 L48.37,292.1 L48.73,291.61 L49.08,291.15 L49.44,290.7 L49.79,290.27 L50.15,289.85 L50.5,289.46 L50.86,289.08 L51.21,288.71 L51.57,288.35 L51.92,288.01 L52.28,287.68 L52.63,287.36 L52.99,287.05 L53.34,286.74 L53.7,286.45 L54.05,286.16 L54.41,285.87 L54.76,285.59 L55.12,285.31 L55.47,285.03 L55.83,284.76 L56.18,284.48 L56.54,284.21 L56.89,283.93 L57.25,283.65 L57.6,283.36 L57.96,283.07 L58.31,282.78 L58.67,282.48 L59.02,282.17 L59.38,281.87 L59.73,281.56 L60.08,281.26 L60.44,280.95 L60.79,280.65 L61.14,280.35 L61.5,280.05 L61.85,279.75 L62.2,279.46 L62.56,279.16 L62.91,278.88 L63.26,278.59 L63.61,278.31 L63.97,278.03 L64.32,277.76 L64.67,277.49 L65.03,277.23 L65.38,276.98 L65.73,276.73 L66.09,276.49 L66.44,276.25 L66.8,276.01 L67.16,275.77 L67.52,275.54 L67.89,275.3 L68.25,275.07 L68.61,274.84 L68.97,274.6 L69.33,274.38 L69.69,274.15 L70.05,273.93 L70.42,273.7 L70.78,273.49 L71.14,273.27 L71.5,273.06 L71.86,272.85 L72.22,272.65 L72.58,272.45 L72.95,272.25 L73.31,272.06 L73.67,271.87 L74.03,271.69 L74.39,271.52 L74.75,271.35 L75.11,271.18 L75.48,271.02 L75.84,270.87 L76.2,270.73 L76.56,270.59 L76.93,270.45 L77.29,270.31 L77.66,270.17 L78.03,270.02 L78.39,269.88 L78.76,269.74 L79.13,269.59 L79.49,269.45 L79.86,269.31 L80.23,269.17 L80.59,269.03 L80.96,268.89 L81.32,268.75 L81.69,268.62 L82.06,268.49 L82.42,268.36 L82.79,268.24 L83.16,268.11 L83.52,268 L83.89,267.89 L84.26,267.78 L84.62,267.68 L84.99,267.58 L85.36,267.49 L85.72,267.4 L86.09,267.32 L86.46,267.25 L86.82,267.19 L87.19,267.13 L87.56,267.08 L87.92,267.04 L88.29,267.01 L88.66,266.98 L89.02,266.97 L89.39,266.96 L89.75,266.97 L90.11,266.97 L90.47,266.98 L90.83,266.99 L91.2,267.01 L91.56,267.03 L91.92,267.05 L92.28,267.08 L92.64,267.11 L93,267.14 L93.36,267.17 L93.73,267.21 L94.09,267.25 L94.45,267.29 L94.81,267.33 L95.17,267.38 L95.53,267.43 L95.89,267.48 L96.26,267.53 L96.62,267.58 L96.98,267.64 L97.34,267.7 L97.7,267.76 L98.07,267.83 L98.44,267.92 L98.8,268.03 L99.17,268.15 L99.54,268.3 L99.91,268.46 L100.27,268.63 L100.64,268.82 L101.01,269.02 L101.38,269.23 L101.74,269.45 L102.11,269.69 L102.48,269.93 L102.85,270.18 L103.21,270.44 L103.58,270.71 L103.95,270.98 L104.32,271.25 L104.68,271.53 L105.05,271.81 L105.42,272.09 L105.78,272.38 L106.15,272.66 L106.52,272.94 L106.89,273.22 L107.25,273.5 L107.62,273.77 L107.99,274.03 L108.36,274.3 L108.72,274.55 L109.08,274.81 L109.43,275.09 L109.78,275.39 L110.14,275.72 L110.49,276.06 L110.84,276.41 L111.19,276.77 L111.55,277.13 L111.9,277.49 L112.25,277.84 L112.61,278.18 L112.96,278.51 L113.31,278.83 L113.66,279.12 L114.02,279.38 L114.37,279.62 L114.72,279.82 L115.07,279.99 L115.43,280.11 L115.78,280.19 L116.13,280.21 L116.49,280.16 L116.86,280.01 L117.22,279.77 L117.58,279.44 L117.94,279.03 L118.3,278.54 L118.66,277.99 L119.02,277.38 L119.39,276.71 L119.75,275.99 L120.11,275.23 L120.47,274.44 L120.83,273.61 L121.19,272.75 L121.55,271.88 L121.92,271 L122.28,270.11 L122.64,269.22 L123,268.34 L123.36,267.47 L123.72,266.62 L124.05,265.75 L124.38,264.69 L124.71,263.48 L125.04,262.18 L125.37,260.84 L125.69,259.51 L126.02,258.24 L126.35,257.08 L126.68,256.07 L127.01,255.28 L127.34,254.74 L127.64,254.38 L127.94,254.05 L128.24,253.74 L128.54,253.47 L128.84,253.23 L129.14,253.03 L129.44,252.88 L129.75,252.79 L130.05,252.76 L130.4,252.81 L130.75,252.96 L131.11,253.2 L131.46,253.53 L131.81,253.94 L132.16,254.41 L132.52,254.95 L132.87,255.54 L133.22,256.18 L133.58,256.86 L133.93,257.58 L134.28,258.32 L134.63,259.08 L134.99,259.85 L135.34,260.62 L135.69,261.39 L136.04,262.15 L136.4,262.89 L136.75,263.6 L137.1,264.29 L137.46,264.93 L137.81,265.55 L138.16,266.18 L138.51,266.82 L138.86,267.48 L139.21,268.13 L139.56,268.8 L139.92,269.47 L140.27,270.14 L140.62,270.82 L140.97,271.5 L141.32,272.17 L141.67,272.85 L142.02,273.52 L142.37,274.19 L142.73,274.86 L143.08,275.52 L143.43,276.17 L143.78,276.81 L144.14,277.46 L144.5,278.07 L144.86,278.67 L145.23,279.24 L145.59,279.8 L145.95,280.35 L146.31,280.88 L146.67,281.42 L147.03,281.95 L147.39,282.48 L147.76,283.02 L148.12,283.56 L148.48,284.12 L148.84,284.7 L149.2,285.29 L149.56,285.91 L149.92,286.55 L150.29,287.23 L150.65,287.93 L151.01,288.68 L151.37,289.46 L151.73,290.29 L152.09,291.17 L152.45,292.1 L152.82,291.54 L153.18,290.99 L153.54,290.47 L153.9,289.97 L154.26,289.48 L154.62,289.02 L154.98,288.57 L155.35,288.14 L155.71,287.72 L156.07,287.32 L156.43,286.93 L156.79,286.55 L157.15,286.18 L157.51,285.83 L157.88,285.48 L158.24,285.14 L158.6,284.81 L158.96,284.48 L159.32,284.16 L159.68,283.84 L160.04,283.53 L160.4,283.22 L160.77,282.91 L161.13,282.6 L161.49,282.29 L161.85,281.98 L162.21,281.66 L162.57,281.34 L162.93,281.02 L163.3,280.7 L163.66,280.37 L164.02,280.04 L164.38,279.71 L164.74,279.38 L165.1,279.05 L165.46,278.72 L165.83,278.39 L166.19,278.06 L166.55,277.73 L166.91,277.4 L167.27,277.08 L167.63,276.76 L167.99,276.45 L168.36,276.13 L168.72,275.83 L169.08,275.53 L169.44,275.23 L169.8,274.94 L170.16,274.66 L170.52,274.39 L170.89,274.12 L171.25,273.86 L171.61,273.61 L171.97,273.37 L172.33,273.14 L172.69,272.92 L173.05,272.71 L173.42,272.52 L173.78,272.33 L174.14,272.16 L174.5,272 L174.86,271.85 L175.22,271.72 L175.58,271.6 L175.95,271.47 L176.31,271.35 L176.67,271.23 L177.03,271.1 L177.39,270.98 L177.75,270.87 L178.11,270.75 L178.48,270.63 L178.84,270.52 L179.2,270.41 L179.56,270.3 L179.92,270.2 L180.28,270.09 L180.64,269.99 L181,269.9 L181.37,269.8 L181.73,269.71 L182.09,269.63 L182.45,269.54 L182.81,269.47 L183.17,269.39 L183.53,269.32 L183.9,269.26 L184.26,269.2 L184.62,269.14 L184.98,269.09 L185.34,269.04 L185.7,269 L186.06,268.97 L186.43,268.94 L186.79,268.92 L187.15,268.9 L187.51,268.89 L187.87,268.89 L188.24,268.89 L188.6,268.9 L188.97,268.92 L189.34,268.94 L189.71,268.96 L190.07,268.99 L190.44,269.03 L190.81,269.07 L191.17,269.11 L191.54,269.15 L191.91,269.2 L192.27,269.26 L192.64,269.31 L193.01,269.37 L193.37,269.43 L193.74,269.49 L194.11,269.56 L194.47,269.62 L194.84,269.69 L195.21,269.75 L195.57,269.82 L195.94,269.89 L196.31,269.95 L196.67,270.02 L197.04,270.08 L197.41,270.15 L197.77,270.21 L198.14,270.27 L198.51,270.33 L198.87,270.39 L199.24,270.44 L199.61,270.49 L199.97,270.54 L200.34,270.59 L200.71,270.63 L201.07,270.68 L201.44,270.72 L201.81,270.77 L202.18,270.82 L202.54,270.87 L202.91,270.92 L203.28,270.97 L203.65,271.02 L204.01,271.07 L204.38,271.12 L204.75,271.17 L205.12,271.22 L205.48,271.27 L205.85,271.32 L206.22,271.36 L206.59,271.4 L206.95,271.45 L207.32,271.48 L207.69,271.52 L208.06,271.56 L208.42,271.59 L208.79,271.62 L209.16,271.64 L209.53,271.67 L209.89,271.68 L210.26,271.7 L210.63,271.71 L211,271.72 L211.36,271.72 L211.73,271.71 L212.1,271.68 L212.47,271.64 L212.83,271.58 L213.2,271.5 L213.57,271.41 L213.94,271.31 L214.31,271.19 L214.67,271.07 L215.04,270.93 L215.41,270.78 L215.78,270.62 L216.14,270.45 L216.51,270.28 L216.88,270.09 L217.25,269.91 L217.62,269.71 L217.98,269.52 L218.35,269.31 L218.72,269.11 L219.09,268.91 L219.45,268.7 L219.82,268.5 L220.19,268.29 L220.56,268.09 L220.93,267.89 L221.29,267.69 L221.66,267.5 L222.03,267.31 L222.4,267.13 L222.76,266.95 L223.13,266.78 L223.5,266.62" fill="none" stroke="#eb9660" stroke-width="1.6" stroke-linejoin="round" stroke-linecap="butt" stroke-dasharray="2,2.5" />
</g>
<g clip-path="url(#cb3)">
<path d="M40.5,314.99 L40.87,315.16 L41.24,315.33 L41.61,315.5 L41.98,315.66 L42.35,315.83 L42.72,315.99 L43.08,316.15 L43.45,316.31 L43.82,316.46 L44.19,316.62 L44.56,316.78 L44.93,316.93 L45.3,317.09 L45.67,317.25 L46.04,317.4 L46.41,317.56 L46.78,317.72 L47.15,317.88 L47.51,318.04 L47.88,318.2 L48.25,318.37 L48.62,318.54 L48.99,318.71 L49.36,318.88 L49.73,319.06 L50.1,319.24 L50.47,319.42 L50.84,319.61 L51.21,319.8 L51.58,319.99 L51.95,320.19 L52.31,320.4 L52.68,320.61 L53.05,320.82 L53.42,321.05 L53.79,321.27 L54.16,321.51 L54.53,321.76 L54.89,322.02 L55.26,322.28 L55.63,322.56 L56,322.85 L56.36,323.15 L56.73,323.46 L57.1,323.77 L57.47,324.1 L57.83,324.43 L58.2,324.77 L58.57,325.11 L58.94,325.46 L59.3,325.81 L59.67,326.17 L60.04,326.53 L60.4,326.9 L60.77,327.27 L61.14,327.64 L61.51,328.02 L61.87,328.4 L62.24,328.78 L62.61,329.15 L62.98,329.53 L63.34,329.91 L63.71,330.29 L64.08,330.67 L64.45,331.04 L64.81,331.42 L65.18,331.78 L65.54,332.13 L65.9,332.48 L66.26,332.82 L66.62,333.16 L66.98,333.5 L67.34,333.83 L67.71,334.17 L68.07,334.51 L68.43,334.85 L68.79,335.19 L69.15,335.55 L69.51,335.9 L69.87,336.27 L70.23,336.64 L70.6,337.03 L70.96,337.43 L71.32,337.84 L71.68,338.27 L72.04,338.72 L72.4,339.18 L72.76,339.66 L73.13,340.16 L73.49,340.69 L73.85,341.23 L74.21,341.8 L74.57,342.4 L74.94,341.8 L75.31,341.23 L75.67,340.68 L76.04,340.15 L76.41,339.64 L76.78,339.14 L77.15,338.67 L77.51,338.21 L77.88,337.77 L78.25,337.34 L78.62,336.92 L78.98,336.52 L79.35,336.13 L79.72,335.75 L80.09,335.38 L80.45,335.02 L80.82,334.67 L81.19,334.32 L81.56,333.98 L81.92,333.64 L82.29,333.31 L82.66,332.98 L83.03,332.65 L83.39,332.32 L83.76,332 L84.13,331.67 L84.5,331.34 L84.87,331 L85.23,330.66 L85.6,330.33 L85.96,329.99 L86.33,329.67 L86.7,329.34 L87.06,329.02 L87.43,328.7 L87.79,328.39 L88.16,328.08 L88.52,327.77 L88.89,327.47 L89.25,327.16 L89.62,326.86 L89.99,326.57 L90.35,326.27 L90.72,325.98 L91.08,325.69 L91.45,325.4 L91.81,325.11 L92.18,324.83 L92.55,324.55 L92.91,324.26 L93.28,323.98 L93.64,323.7 L94.01,323.42 L94.37,323.15 L94.74,322.87 L95.1,322.59 L95.47,322.31 L95.84,322.04 L96.2,321.76 L96.57,321.48 L96.93,321.2 L97.3,320.93 L97.66,320.65 L98.03,320.37 L98.39,320.09 L98.76,319.81 L99.13,319.52 L99.49,319.24 L99.86,318.95 L100.22,318.67 L100.59,318.38 L100.95,318.09 L101.32,317.8 L101.68,317.51 L102.04,317.22 L102.4,316.93 L102.76,316.64 L103.12,316.35 L103.48,316.06 L103.85,315.77 L104.21,315.48 L104.57,315.19 L104.93,314.9 L105.29,314.61 L105.65,314.32 L106.01,314.03 L106.38,313.74 L106.74,313.45 L107.1,313.16 L107.46,312.87 L107.82,312.58 L108.18,312.3 L108.54,312.01 L108.91,311.72 L109.27,311.44 L109.63,311.15 L109.99,310.86 L110.35,310.58 L110.71,310.3 L111.07,310.02 L111.43,309.73 L111.8,309.45 L112.16,309.16 L112.52,308.85 L112.88,308.52 L113.24,308.17 L113.6,307.81 L113.96,307.45 L114.33,307.09 L114.69,306.73 L115.05,306.37 L115.41,306.03 L115.77,305.7 L116.13,305.38 L116.49,305.09 L116.86,304.83 L117.22,304.59 L117.58,304.39 L117.94,304.23 L118.3,304.11 L118.66,304.03 L119.02,304 L119.36,304.07 L119.7,304.27 L120.04,304.57 L120.37,304.98 L120.71,305.47 L121.05,306.03 L121.39,306.65 L121.72,307.3 L122.06,307.99 L122.4,308.69 L122.73,309.38 L123.07,310.07 L123.41,310.72 L123.75,311.33 L124.08,311.88 L124.43,312.46 L124.77,313.1 L125.12,313.78 L125.46,314.48 L125.81,315.17 L126.15,315.83 L126.5,316.42 L126.84,316.93 L127.19,317.32 L127.53,317.58 L127.88,317.67 L128.23,317.63 L128.58,317.51 L128.93,317.32 L129.28,317.07 L129.63,316.78 L129.98,316.45 L130.33,316.1 L130.68,315.73 L131.03,315.36 L131.38,314.99 L131.73,314.64 L132.08,314.31 L132.43,314.02 L132.78,313.78 L133.13,313.59 L133.48,313.48 L133.83,313.4 L134.18,313.32 L134.53,313.25 L134.89,313.18 L135.24,313.11 L135.59,313.05 L135.94,312.99 L136.29,312.93 L136.64,312.88 L136.99,312.83 L137.35,312.79 L137.7,312.75 L138.05,312.72 L138.4,312.69 L138.75,312.67 L139.1,312.65 L139.45,312.64 L139.8,312.64 L140.17,312.65 L140.54,312.69 L140.91,312.75 L141.27,312.83 L141.64,312.93 L142.01,313.06 L142.37,313.2 L142.74,313.36 L143.11,313.54 L143.48,313.73 L143.84,313.94 L144.21,314.16 L144.58,314.39 L144.94,314.63 L145.31,314.89 L145.68,315.15 L146.04,315.43 L146.41,315.71 L146.78,315.99 L147.15,316.28 L147.51,316.58 L147.88,316.87 L148.25,317.17 L148.61,317.47 L148.98,317.77 L149.35,318.07 L149.72,318.36 L150.08,318.66 L150.45,318.94 L150.82,319.22 L151.18,319.5 L151.55,319.76 L151.91,320.03 L152.27,320.29 L152.63,320.56 L153,320.84 L153.36,321.12 L153.72,321.4 L154.08,321.69 L154.44,321.98 L154.8,322.28 L155.16,322.58 L155.53,322.88 L155.89,323.19 L156.25,323.49 L156.61,323.81 L156.97,324.12 L157.33,324.44 L157.69,324.76 L158.06,325.08 L158.42,325.41 L158.78,325.73 L159.14,326.06 L159.5,326.39 L159.86,326.72 L160.22,327.06 L160.59,327.39 L160.95,327.72 L161.31,328.06 L161.67,328.39 L162.03,328.73 L162.39,329.07 L162.75,329.4 L163.12,329.74 L163.48,330.08 L163.84,330.41 L164.2,330.75 L164.57,331.08 L164.93,331.41 L165.3,331.73 L165.67,332.05 L166.03,332.36 L166.4,332.67 L166.77,332.97 L167.14,333.28 L167.5,333.58 L167.87,333.88 L168.24,334.19 L168.6,334.49 L168.97,334.8 L169.34,335.11 L169.71,335.43 L170.07,335.75 L170.44,336.08 L170.81,336.41 L171.17,336.76 L171.54,337.11 L171.91,337.47 L172.27,337.85 L172.64,338.23 L173.01,338.63 L173.38,339.04 L173.74,339.47 L174.11,339.92 L174.48,340.38 L174.84,340.85 L175.21,341.35 L175.58,341.86 L175.95,342.4 L176.31,341.98 L176.68,341.57 L177.04,341.17 L177.41,340.78 L177.77,340.4 L178.14,340.03 L178.51,339.67 L178.87,339.32 L179.24,338.97 L179.6,338.64 L179.97,338.31 L180.33,337.99 L180.7,337.68 L181.07,337.37 L181.43,337.07 L181.8,336.78 L182.16,336.5 L182.53,336.22 L182.9,335.94 L183.26,335.67 L183.63,335.41 L183.99,335.15 L184.36,334.9 L184.72,334.65 L185.09,334.4 L185.46,334.16 L185.82,333.92 L186.19,333.68 L186.55,333.45 L186.92,333.22 L187.29,332.99 L187.65,332.76 L188.02,332.53 L188.38,332.31 L188.75,332.09 L189.11,331.86 L189.48,331.64 L189.85,331.42 L190.21,331.2 L190.58,330.97 L190.94,330.75 L191.3,330.53 L191.67,330.31 L192.03,330.1 L192.39,329.9 L192.75,329.7 L193.11,329.51 L193.47,329.31 L193.83,329.13 L194.2,328.94 L194.56,328.76 L194.92,328.58 L195.28,328.4 L195.64,328.23 L196,328.05 L196.36,327.88 L196.73,327.71 L197.09,327.54 L197.45,327.36 L197.81,327.19 L198.17,327.02 L198.53,326.85 L198.89,326.68 L199.26,326.5 L199.62,326.33 L199.98,326.15 L200.34,325.97 L200.7,325.78 L201.06,325.58 L201.42,325.36 L201.79,325.14 L202.15,324.91 L202.51,324.67 L202.87,324.44 L203.23,324.2 L203.59,323.96 L203.95,323.73 L204.32,323.5 L204.68,323.28 L205.04,323.07 L205.4,322.88 L205.76,322.7 L206.12,322.53 L206.48,322.39 L206.85,322.26 L207.21,322.16 L207.57,322.09 L207.93,322.04 L208.29,322.03 L208.64,322.04 L209,322.06 L209.35,322.1 L209.7,322.15 L210.06,322.21 L210.41,322.29 L210.76,322.38 L211.12,322.47 L211.47,322.58 L211.82,322.69 L212.18,322.82 L212.53,322.95 L212.88,323.09 L213.24,323.23 L213.59,323.37 L213.94,323.52 L214.29,323.68 L214.65,323.83 L215,323.99 L215.35,324.15 L215.71,324.3 L216.06,324.46 L216.42,324.62 L216.77,324.81 L217.12,325.01 L217.48,325.22 L217.83,325.45 L218.19,325.7 L218.54,325.95 L218.89,326.22 L219.25,326.49 L219.6,326.77 L219.96,327.05 L220.31,327.34 L220.67,327.64 L221.02,327.93 L221.37,328.22 L221.73,328.52 L222.08,328.81 L222.44,329.09 L222.79,329.37 L223.15,329.64 L223.5,329.91" fill="none" stroke="#a4a4dc" stroke-width="1.3" stroke-linejoin="round" stroke-linecap="butt" />
<path d="M40.5,314.74 L40.87,314.92 L41.24,315.1 L41.61,315.28 L41.98,315.46 L42.35,315.64 L42.72,315.81 L43.08,315.99 L43.45,316.16 L43.82,316.33 L44.19,316.51 L44.56,316.68 L44.93,316.85 L45.3,317.02 L45.67,317.19 L46.04,317.36 L46.41,317.53 L46.78,317.71 L47.15,317.88 L47.51,318.06 L47.88,318.23 L48.25,318.41 L48.62,318.59 L48.99,318.78 L49.36,318.96 L49.73,319.15 L50.1,319.34 L50.47,319.53 L50.84,319.73 L51.21,319.93 L51.58,320.13 L51.95,320.34 L52.31,320.55 L52.68,320.77 L53.05,320.99 L53.42,321.21 L53.79,321.44 L54.16,321.68 L54.53,321.92 L54.89,322.16 L55.26,322.42 L55.63,322.68 L56,322.94 L56.36,323.21 L56.73,323.49 L57.1,323.77 L57.47,324.05 L57.83,324.35 L58.2,324.64 L58.57,324.94 L58.94,325.25 L59.3,325.56 L59.67,325.87 L60.04,326.19 L60.4,326.52 L60.77,326.84 L61.14,327.18 L61.51,327.51 L61.87,327.85 L62.24,328.19 L62.61,328.53 L62.98,328.88 L63.34,329.23 L63.71,329.59 L64.08,329.94 L64.45,330.3 L64.81,330.66 L65.18,331.02 L65.54,331.37 L65.9,331.72 L66.26,332.07 L66.62,332.41 L66.98,332.76 L67.34,333.11 L67.71,333.47 L68.07,333.83 L68.43,334.19 L68.79,334.57 L69.15,334.95 L69.51,335.34 L69.87,335.74 L70.23,336.15 L70.6,336.57 L70.96,337.01 L71.32,337.46 L71.68,337.93 L72.04,338.42 L72.4,338.92 L72.76,339.45 L73.13,339.99 L73.49,340.56 L73.85,341.15 L74.21,341.76 L74.57,342.4 L74.94,341.85 L75.31,341.32 L75.67,340.81 L76.04,340.33 L76.41,339.86 L76.78,339.41 L77.15,338.98 L77.51,338.57 L77.88,338.17 L78.25,337.78 L78.62,337.41 L78.98,337.05 L79.35,336.7 L79.72,336.36 L80.09,336.02 L80.45,335.69 L80.82,335.37 L81.19,335.05 L81.56,334.74 L81.92,334.43 L82.29,334.11 L82.66,333.8 L83.03,333.49 L83.39,333.17 L83.76,332.85 L84.13,332.52 L84.5,332.19 L84.87,331.85 L85.23,331.5 L85.6,331.15 L85.96,330.8 L86.33,330.46 L86.7,330.11 L87.06,329.77 L87.43,329.43 L87.79,329.09 L88.16,328.75 L88.52,328.41 L88.89,328.08 L89.25,327.74 L89.62,327.41 L89.99,327.08 L90.35,326.75 L90.72,326.42 L91.08,326.09 L91.45,325.76 L91.81,325.43 L92.18,325.1 L92.55,324.78 L92.91,324.45 L93.28,324.13 L93.64,323.8 L94.01,323.48 L94.37,323.15 L94.74,322.83 L95.1,322.5 L95.47,322.18 L95.84,321.85 L96.2,321.53 L96.57,321.2 L96.93,320.88 L97.3,320.55 L97.66,320.22 L98.03,319.9 L98.39,319.57 L98.76,319.24 L99.13,318.91 L99.49,318.58 L99.86,318.25 L100.22,317.92 L100.59,317.58 L100.95,317.25 L101.32,316.92 L101.68,316.59 L102.04,316.26 L102.4,315.93 L102.76,315.61 L103.12,315.28 L103.48,314.95 L103.85,314.63 L104.21,314.3 L104.57,313.97 L104.93,313.65 L105.29,313.32 L105.65,312.99 L106.01,312.67 L106.38,312.34 L106.74,312.01 L107.1,311.68 L107.46,311.34 L107.82,311.01 L108.18,310.67 L108.54,310.34 L108.91,310 L109.27,309.65 L109.63,309.31 L109.99,308.96 L110.35,308.61 L110.71,308.26 L111.07,307.91 L111.43,307.55 L111.8,307.19 L112.14,306.82 L112.48,306.42 L112.82,305.98 L113.16,305.52 L113.5,305.03 L113.84,304.54 L114.19,304.04 L114.53,303.55 L114.87,303.07 L115.21,302.6 L115.55,302.17 L115.89,301.77 L116.23,301.4 L116.57,301.09 L116.92,300.84 L117.26,300.65 L117.6,300.53 L117.94,300.48 L118.29,300.55 L118.64,300.73 L118.99,301.01 L119.33,301.38 L119.68,301.84 L120.03,302.35 L120.38,302.92 L120.73,303.52 L121.08,304.15 L121.43,304.79 L121.77,305.42 L122.12,306.05 L122.47,306.64 L122.82,307.19 L123.17,307.76 L123.51,308.42 L123.86,309.14 L124.21,309.9 L124.56,310.67 L124.9,311.44 L125.25,312.18 L125.6,312.87 L125.95,313.48 L126.29,313.99 L126.64,314.39 L126.99,314.65 L127.34,314.74 L127.68,314.71 L128.02,314.64 L128.36,314.52 L128.7,314.37 L129.04,314.19 L129.38,313.98 L129.73,313.75 L130.07,313.51 L130.41,313.26 L130.75,313 L131.09,312.74 L131.43,312.48 L131.77,312.24 L132.12,312.02 L132.46,311.81 L132.8,311.63 L133.14,311.49 L133.48,311.38 L133.82,311.29 L134.17,311.21 L134.51,311.12 L134.85,311.04 L135.19,310.96 L135.53,310.88 L135.88,310.8 L136.22,310.73 L136.56,310.66 L136.9,310.6 L137.25,310.54 L137.59,310.48 L137.93,310.44 L138.27,310.39 L138.62,310.36 L138.96,310.33 L139.3,310.31 L139.64,310.3 L139.99,310.29 L140.35,310.3 L140.71,310.33 L141.07,310.38 L141.43,310.45 L141.79,310.53 L142.15,310.63 L142.52,310.75 L142.88,310.88 L143.24,311.03 L143.6,311.19 L143.96,311.36 L144.32,311.54 L144.68,311.74 L145.05,311.94 L145.41,312.16 L145.77,312.38 L146.13,312.61 L146.49,312.84 L146.85,313.09 L147.21,313.33 L147.58,313.59 L147.94,313.84 L148.3,314.1 L148.66,314.36 L149.02,314.62 L149.38,314.88 L149.74,315.14 L150.1,315.4 L150.47,315.66 L150.83,315.91 L151.19,316.17 L151.55,316.41 L151.91,316.66 L152.27,316.92 L152.63,317.18 L153,317.45 L153.36,317.74 L153.72,318.02 L154.08,318.32 L154.44,318.62 L154.8,318.93 L155.16,319.24 L155.53,319.57 L155.89,319.89 L156.25,320.22 L156.61,320.56 L156.97,320.9 L157.33,321.24 L157.69,321.59 L158.06,321.94 L158.42,322.3 L158.78,322.66 L159.14,323.02 L159.5,323.38 L159.86,323.74 L160.22,324.11 L160.59,324.48 L160.95,324.85 L161.31,325.21 L161.67,325.58 L162.03,325.95 L162.39,326.32 L162.75,326.69 L163.12,327.06 L163.48,327.42 L163.84,327.79 L164.2,328.15 L164.57,328.51 L164.93,328.87 L165.3,329.21 L165.67,329.56 L166.03,329.9 L166.4,330.23 L166.76,330.57 L167.13,330.9 L167.5,331.23 L167.86,331.55 L168.23,331.88 L168.6,332.21 L168.96,332.54 L169.33,332.87 L169.7,333.21 L170.06,333.55 L170.43,333.9 L170.8,334.25 L171.16,334.61 L171.53,334.97 L171.89,335.34 L172.26,335.72 L172.63,336.11 L172.99,336.51 L173.36,336.93 L173.73,337.35 L174.09,337.78 L174.46,338.23 L174.83,338.7 L175.19,339.17 L175.56,339.67 L175.93,340.18 L176.29,340.71 L176.66,341.25 L177.02,341.82 L177.39,342.4 L177.76,342.03 L178.12,341.68 L178.49,341.34 L178.86,341.01 L179.22,340.7 L179.59,340.4 L179.95,340.1 L180.32,339.82 L180.69,339.55 L181.05,339.28 L181.42,339.03 L181.79,338.78 L182.15,338.54 L182.52,338.3 L182.89,338.08 L183.25,337.85 L183.62,337.63 L183.98,337.41 L184.35,337.2 L184.72,336.99 L185.08,336.78 L185.45,336.58 L185.82,336.37 L186.18,336.16 L186.55,335.95 L186.91,335.75 L187.28,335.53 L187.65,335.32 L188.01,335.1 L188.38,334.88 L188.75,334.66 L189.11,334.43 L189.48,334.19 L189.84,333.95 L190.21,333.7 L190.58,333.44 L190.94,333.18 L191.3,332.91 L191.67,332.64 L192.03,332.37 L192.39,332.09 L192.75,331.81 L193.11,331.53 L193.47,331.25 L193.83,330.97 L194.2,330.68 L194.56,330.39 L194.92,330.1 L195.28,329.81 L195.64,329.52 L196,329.23 L196.36,328.93 L196.73,328.63 L197.09,328.34 L197.45,328.04 L197.81,327.74 L198.17,327.44 L198.53,327.14 L198.89,326.84 L199.26,326.54 L199.62,326.24 L199.98,325.93 L200.34,325.63 L200.7,325.32 L201.06,324.98 L201.42,324.61 L201.79,324.23 L202.15,323.84 L202.51,323.43 L202.87,323.02 L203.23,322.6 L203.59,322.18 L203.95,321.77 L204.32,321.36 L204.68,320.97 L205.04,320.59 L205.4,320.23 L205.76,319.89 L206.12,319.57 L206.48,319.29 L206.85,319.04 L207.21,318.83 L207.57,318.66 L207.93,318.53 L208.29,318.45 L208.65,318.42 L209,318.43 L209.36,318.45 L209.71,318.49 L210.06,318.54 L210.42,318.6 L210.77,318.68 L211.12,318.76 L211.47,318.85 L211.83,318.96 L212.18,319.07 L212.53,319.19 L212.89,319.31 L213.24,319.44 L213.59,319.58 L213.94,319.72 L214.3,319.86 L214.65,320.01 L215,320.16 L215.36,320.31 L215.71,320.46 L216.06,320.6 L216.42,320.76 L216.77,320.94 L217.12,321.13 L217.48,321.34 L217.83,321.57 L218.19,321.81 L218.54,322.06 L218.89,322.32 L219.25,322.59 L219.6,322.86 L219.96,323.15 L220.31,323.43 L220.67,323.72 L221.02,324.01 L221.37,324.3 L221.73,324.59 L222.08,324.88 L222.44,325.16 L222.79,325.44 L223.15,325.71 L223.5,325.97" fill="none" stroke="#f0ae84" stroke-width="1.6" stroke-linejoin="round" stroke-linecap="butt" stroke-dasharray="2,2.5" />
</g>
<rect x="40.5" y="190.5" width="183" height="151.9" fill="none" stroke="#3c3c3c" stroke-width="1.1"/>
<line x1="40.5" y1="241.15" x2="223.5" y2="241.15" stroke="#3c3c3c" stroke-width="1.1"/>
<line x1="40.5" y1="292.1" x2="223.5" y2="292.1" stroke="#3c3c3c" stroke-width="1.1"/>
<line x1="40.5" y1="241.15" x2="40.5" y2="238.55" stroke="#3c3c3c" stroke-width="1.1"/>
<line x1="63.38" y1="241.15" x2="63.38" y2="239.35" stroke="#3c3c3c" stroke-width="1.1"/>
<line x1="86.25" y1="241.15" x2="86.25" y2="238.55" stroke="#3c3c3c" stroke-width="1.1"/>
<line x1="109.12" y1="241.15" x2="109.12" y2="239.35" stroke="#3c3c3c" stroke-width="1.1"/>
<line x1="132" y1="241.15" x2="132" y2="238.55" stroke="#3c3c3c" stroke-width="1.1"/>
<line x1="154.88" y1="241.15" x2="154.88" y2="239.35" stroke="#3c3c3c" stroke-width="1.1"/>
<line x1="177.75" y1="241.15" x2="177.75" y2="238.55" stroke="#3c3c3c" stroke-width="1.1"/>
<line x1="200.62" y1="241.15" x2="200.62" y2="239.35" stroke="#3c3c3c" stroke-width="1.1"/>
<line x1="223.5" y1="241.15" x2="223.5" y2="238.55" stroke="#3c3c3c" stroke-width="1.1"/>
<line x1="40.5" y1="292.1" x2="40.5" y2="289.5" stroke="#3c3c3c" stroke-width="1.1"/>
<line x1="63.38" y1="292.1" x2="63.38" y2="290.3" stroke="#3c3c3c" stroke-width="1.1"/>
<line x1="86.25" y1="292.1" x2="86.25" y2="289.5" stroke="#3c3c3c" stroke-width="1.1"/>
<line x1="109.12" y1="292.1" x2="109.12" y2="290.3" stroke="#3c3c3c" stroke-width="1.1"/>
<line x1="132" y1="292.1" x2="132" y2="289.5" stroke="#3c3c3c" stroke-width="1.1"/>
<line x1="154.88" y1="292.1" x2="154.88" y2="290.3" stroke="#3c3c3c" stroke-width="1.1"/>
<line x1="177.75" y1="292.1" x2="177.75" y2="289.5" stroke="#3c3c3c" stroke-width="1.1"/>
<line x1="200.62" y1="292.1" x2="200.62" y2="290.3" stroke="#3c3c3c" stroke-width="1.1"/>
<line x1="223.5" y1="292.1" x2="223.5" y2="289.5" stroke="#3c3c3c" stroke-width="1.1"/>
<line x1="40.5" y1="342.4" x2="40.5" y2="339.8" stroke="#3c3c3c" stroke-width="1.1"/>
<line x1="63.38" y1="342.4" x2="63.38" y2="340.6" stroke="#3c3c3c" stroke-width="1.1"/>
<line x1="86.25" y1="342.4" x2="86.25" y2="339.8" stroke="#3c3c3c" stroke-width="1.1"/>
<line x1="109.12" y1="342.4" x2="109.12" y2="340.6" stroke="#3c3c3c" stroke-width="1.1"/>
<line x1="132" y1="342.4" x2="132" y2="339.8" stroke="#3c3c3c" stroke-width="1.1"/>
<line x1="154.88" y1="342.4" x2="154.88" y2="340.6" stroke="#3c3c3c" stroke-width="1.1"/>
<line x1="177.75" y1="342.4" x2="177.75" y2="339.8" stroke="#3c3c3c" stroke-width="1.1"/>
<line x1="200.62" y1="342.4" x2="200.62" y2="340.6" stroke="#3c3c3c" stroke-width="1.1"/>
<line x1="223.5" y1="342.4" x2="223.5" y2="339.8" stroke="#3c3c3c" stroke-width="1.1"/>
<text x="40.5" y="352.8" font-size="9.1" text-anchor="middle" font-family='"Liberation Sans", sans-serif' fill="#222222" font-weight="normal" >0</text>
<text x="86.25" y="352.8" font-size="9.1" text-anchor="middle" font-family='"Liberation Sans", sans-serif' fill="#222222" font-weight="normal" >25</text>
<text x="132" y="352.8" font-size="9.1" text-anchor="middle" font-family='"Liberation Sans", sans-serif' fill="#222222" font-weight="normal" >50</text>
<text x="177.75" y="352.8" font-size="9.1" text-anchor="middle" font-family='"Liberation Sans", sans-serif' fill="#222222" font-weight="normal" >75</text>
<text x="223.5" y="352.8" font-size="9.1" text-anchor="middle" font-family='"Liberation Sans", sans-serif' fill="#222222" font-weight="normal" >100</text>
<text x="132" y="366.1" font-size="11.6" text-anchor="middle" font-family='"Liberation Sans", sans-serif' fill="#222222" font-weight="normal" >Time (fs)</text>
<line x1="40.5" y1="224.27" x2="43.1" y2="224.27" stroke="#3c3c3c" stroke-width="1.1"/>
<line x1="40.5" y1="207.38" x2="43.1" y2="207.38" stroke="#3c3c3c" stroke-width="1.1"/>
<text x="37" y="244.3" font-size="9.1" text-anchor="end" font-family='"Liberation Sans", sans-serif' fill="#222222" font-weight="normal" >0.0</text>
<text x="37" y="227.42" font-size="9.1" text-anchor="end" font-family='"Liberation Sans", sans-serif' fill="#222222" font-weight="normal" >0.4</text>
<text x="37" y="210.53" font-size="9.1" text-anchor="end" font-family='"Liberation Sans", sans-serif' fill="#222222" font-weight="normal" >0.8</text>
<text x="37" y="193.65" font-size="9.1" text-anchor="end" font-family='"Liberation Sans", sans-serif' fill="#222222" font-weight="normal" >1.2</text>
<line x1="40.5" y1="275.12" x2="43.1" y2="275.12" stroke="#3c3c3c" stroke-width="1.1"/>
<line x1="40.5" y1="258.13" x2="43.1" y2="258.13" stroke="#3c3c3c" stroke-width="1.1"/>
<text x="37" y="295.25" font-size="9.1" text-anchor="end" font-family='"Liberation Sans", sans-serif' fill="#222222" font-weight="normal" >0.0</text>
<text x="37" y="278.27" font-size="9.1" text-anchor="end" font-family='"Liberation Sans", sans-serif' fill="#222222" font-weight="normal" >0.3</text>
<text x="37" y="261.28" font-size="9.1" text-anchor="end" font-family='"Liberation Sans", sans-serif' fill="#222222" font-weight="normal" >0.6</text>
<line x1="40.5" y1="325.63" x2="43.1" y2="325.63" stroke="#3c3c3c" stroke-width="1.1"/>
<line x1="40.5" y1="308.87" x2="43.1" y2="308.87" stroke="#3c3c3c" stroke-width="1.1"/>
<text x="37" y="345.55" font-size="9.1" text-anchor="end" font-family='"Liberation Sans", sans-serif' fill="#222222" font-weight="normal" >0.0</text>
<text x="37" y="328.78" font-size="9.1" text-anchor="end" font-family='"Liberation Sans", sans-serif' fill="#222222" font-weight="normal" >0.2</text>
<text x="37" y="312.02" font-size="9.1" text-anchor="end" font-family='"Liberation Sans", sans-serif' fill="#222222" font-weight="normal" >0.4</text>
<text x="19.8" y="266.3" font-size="11.6" text-anchor="middle" font-family='"Liberation Sans", sans-serif' fill="#222222" font-weight="normal" transform="rotate(-90 19.8 266.3)">|NAC| (meV)</text>
<line x1="143.9" y1="196.6" x2="150" y2="196.6" stroke="#4a4a94" stroke-width="1.1"/>
<line x1="143.9" y1="206.0" x2="151" y2="206.0" stroke="#e8803c" stroke-width="2" stroke-dasharray="2,2.6"/>
<text transform="translate(155.7 199.8) scale(1 1.1)" font-size="7.6" font-family='"Liberation Mono", monospace' fill="#262626" stroke="#262626" stroke-width="0.15">VBM,CBM,DFT</text>
<text transform="translate(155.7 209.2) scale(1 1.1)" font-size="7.6" font-family='"Liberation Mono", monospace' fill="#262626" stroke="#262626" stroke-width="0.15">VBM,CBM,N<tspan font-size="5" dy="-2.6">2</tspan><tspan dy="2.6">AMD</tspan></text>
<line x1="143.9" y1="247.5" x2="150" y2="247.5" stroke="#7474c8" stroke-width="1.1"/>
<line x1="143.9" y1="256.9" x2="151" y2="256.9" stroke="#eb9660" stroke-width="2" stroke-dasharray="2,2.6"/>
<text transform="translate(155.7 250.7) scale(1 1.1)" font-size="7.6" font-family='"Liberation Mono", monospace' fill="#262626" stroke="#262626" stroke-width="0.15">VBM-1,CBM,DFT</text>
<text transform="translate(155.7 260.1) scale(1 1.1)" font-size="7.6" font-family='"Liberation Mono", monospace' fill="#262626" stroke="#262626" stroke-width="0.15">VBM-1,CBM,N<tspan font-size="5" dy="-2.6">2</tspan><tspan dy="2.6">AMD</tspan></text>
<line x1="143.9" y1="296.6" x2="150" y2="296.6" stroke="#a4a4dc" stroke-width="1.1"/>
<line x1="143.9" y1="306.2" x2="151" y2="306.2" stroke="#f0ae84" stroke-width="2" stroke-dasharray="2,2.6"/>
<text transform="translate(155.7 299.8) scale(1 1.1)" font-size="7.6" font-family='"Liberation Mono", monospace' fill="#262626" stroke="#262626" stroke-width="0.15">VBM-2,CBM,DFT</text>
<text transform="translate(155.7 309.4) scale(1 1.1)" font-size="7.6" font-family='"Liberation Mono", monospace' fill="#262626" stroke="#262626" stroke-width="0.15">VBM-2,CBM,N<tspan font-size="5" dy="-2.6">2</tspan><tspan dy="2.6">AMD</tspan></text>
<text x="-0.5" y="190" font-size="14.5" text-anchor="start" font-family='"Liberation Sans", sans-serif' fill="#111" font-weight="bold" >b</text>
<defs><clipPath id="cc"><rect x="279.4" y="7.5" width="181.40000000000003" height="150.7"/></clipPath></defs>
<g clip-path="url(#cc)">
<path d="M279.4,158.2 L280.61,154.41 L281.82,150.72 L283.03,147.12 L284.24,143.62 L285.45,140.2 L286.66,136.86 L287.87,133.61 L289.07,130.44 L290.28,127.36 L291.49,124.34 L292.7,121.41 L293.91,118.55 L295.12,115.76 L296.33,113.04 L297.54,110.38 L298.75,107.8 L299.96,105.28 L301.17,102.82 L302.38,100.43 L303.59,98.09 L304.8,95.82 L306.01,93.6 L307.21,91.44 L308.42,89.33 L309.63,87.27 L310.84,85.27 L312.05,83.31 L313.26,81.41 L314.47,79.55 L315.68,77.74 L316.89,75.98 L318.1,74.26 L319.31,72.58 L320.52,70.94 L321.73,69.35 L322.94,67.8 L324.15,66.28 L325.35,64.8 L326.56,63.36 L327.77,61.96 L328.98,60.59 L330.19,59.26 L331.4,57.96 L332.61,56.69 L333.82,55.45 L335.03,54.25 L336.24,53.08 L337.45,51.93 L338.66,50.81 L339.87,49.73 L341.08,48.66 L342.29,47.63 L343.49,46.62 L344.7,45.64 L345.91,44.68 L347.12,43.75 L348.33,42.84 L349.54,41.95 L350.75,41.08 L351.96,40.24 L353.17,39.42 L354.38,38.61 L355.59,37.83 L356.8,37.07 L358.01,36.33 L359.22,35.6 L360.43,34.9 L361.63,34.21 L362.84,33.54 L364.05,32.88 L365.26,32.25 L366.47,31.62 L367.68,31.02 L368.89,30.43 L370.1,29.85 L371.31,29.29 L372.52,28.74 L373.73,28.21 L374.94,27.69 L376.15,27.21 L377.36,26.77 L378.57,26.34 L379.77,25.92 L380.98,25.51 L382.19,25.11 L383.4,24.72 L384.61,24.33 L385.82,23.96 L387.03,23.59 L388.24,23.23 L389.45,22.88 L390.66,22.54 L391.87,22.2 L393.08,21.88 L394.29,21.56 L395.5,21.24 L396.71,20.94 L397.91,20.64 L399.12,20.34 L400.33,20.06 L401.54,19.78 L402.75,19.5 L403.96,19.24 L405.17,18.97 L406.38,18.72 L407.59,18.47 L408.8,18.22 L410.01,17.99 L411.22,17.75 L412.43,17.52 L413.64,17.3 L414.85,17.08 L416.05,16.87 L417.26,16.66 L418.47,16.45 L419.68,16.26 L420.89,16.06 L422.1,15.87 L423.31,15.68 L424.52,15.5 L425.73,15.32 L426.94,15.15 L428.15,14.98 L429.36,14.81 L430.57,14.65 L431.78,14.49 L432.99,14.33 L434.19,14.18 L435.4,14.03 L436.61,13.89 L437.82,13.74 L439.03,13.6 L440.24,13.47 L441.45,13.34 L442.66,13.21 L443.87,13.08 L445.08,12.95 L446.29,12.83 L447.5,12.71 L448.71,12.6 L449.92,12.48 L451.13,12.37 L452.33,12.26 L453.54,12.16 L454.75,12.05 L455.96,11.95 L457.17,11.85 L458.38,11.76 L459.59,11.66 L460.8,11.57" fill="none" stroke="#40408e" stroke-width="1.5" stroke-linejoin="round" stroke-linecap="butt" />
<path d="M279.4,158.2 L280.61,154.55 L281.82,150.99 L283.03,147.52 L284.24,144.13 L285.45,140.82 L286.66,137.59 L287.87,134.44 L289.07,131.37 L290.28,128.37 L291.49,125.44 L292.7,122.59 L293.91,119.8 L295.12,117.08 L296.33,114.43 L297.54,111.84 L298.75,109.31 L299.96,106.85 L301.17,104.44 L302.38,102.1 L303.59,99.8 L304.8,97.57 L306.01,95.39 L307.21,93.26 L308.42,91.18 L309.63,89.16 L310.84,87.18 L312.05,85.25 L313.26,83.37 L314.47,81.53 L315.68,79.74 L316.89,77.99 L318.1,76.28 L319.31,74.62 L320.52,72.99 L321.73,71.41 L322.94,69.86 L324.15,68.35 L325.35,66.88 L326.56,65.44 L327.77,64.04 L328.98,62.67 L330.19,61.33 L331.4,60.03 L332.61,58.76 L333.82,57.52 L335.03,56.31 L336.24,55.12 L337.45,53.97 L338.66,52.85 L339.87,51.75 L341.08,50.68 L342.29,49.63 L343.49,48.61 L344.7,47.62 L345.91,46.64 L347.12,45.7 L348.33,44.77 L349.54,43.87 L350.75,42.99 L351.96,42.13 L353.17,41.29 L354.38,40.47 L355.59,39.67 L356.8,38.9 L358.01,38.14 L359.22,37.39 L360.43,36.67 L361.63,35.96 L362.84,35.27 L364.05,34.6 L365.26,33.95 L366.47,33.31 L367.68,32.68 L368.89,32.07 L370.1,31.48 L371.31,30.9 L372.52,30.33 L373.73,29.78 L374.94,29.24 L376.15,28.73 L377.36,28.25 L378.57,27.79 L379.77,27.33 L380.98,26.89 L382.19,26.45 L383.4,26.02 L384.61,25.61 L385.82,25.2 L387.03,24.8 L388.24,24.42 L389.45,24.04 L390.66,23.66 L391.87,23.3 L393.08,22.95 L394.29,22.6 L395.5,22.26 L396.71,21.93 L397.91,21.6 L399.12,21.29 L400.33,20.98 L401.54,20.68 L402.75,20.38 L403.96,20.09 L405.17,19.81 L406.38,19.53 L407.59,19.26 L408.8,19 L410.01,18.74 L411.22,18.49 L412.43,18.24 L413.64,18 L414.85,17.76 L416.05,17.53 L417.26,17.31 L418.47,17.09 L419.68,16.87 L420.89,16.66 L422.1,16.45 L423.31,16.25 L424.52,16.06 L425.73,15.86 L426.94,15.68 L428.15,15.49 L429.36,15.31 L430.57,15.14 L431.78,14.97 L432.99,14.8 L434.19,14.64 L435.4,14.47 L436.61,14.32 L437.82,14.17 L439.03,14.02 L440.24,13.87 L441.45,13.73 L442.66,13.59 L443.87,13.45 L445.08,13.32 L446.29,13.19 L447.5,13.06 L448.71,12.93 L449.92,12.81 L451.13,12.69 L452.33,12.57 L453.54,12.46 L454.75,12.35 L455.96,12.24 L457.17,12.13 L458.38,12.03 L459.59,11.93 L460.8,11.83" fill="none" stroke="#ea7a3a" stroke-width="1.7" stroke-linejoin="round" stroke-linecap="butt" stroke-dasharray="2.6,3.4" />
</g>
<rect x="279.4" y="7.5" width="181.4" height="150.7" fill="none" stroke="#3c3c3c" stroke-width="1.1"/>
<line x1="279.4" y1="158.2" x2="279.4" y2="155.6" stroke="#3c3c3c" stroke-width="1.1"/>
<text x="279.4" y="168.6" font-size="9.1" text-anchor="middle" font-family='"Liberation Sans", sans-serif' fill="#222222" font-weight="normal" >0</text>
<line x1="297.54" y1="158.2" x2="297.54" y2="156.4" stroke="#3c3c3c" stroke-width="1.1"/>
<line x1="315.68" y1="158.2" x2="315.68" y2="155.6" stroke="#3c3c3c" stroke-width="1.1"/>
<text x="315.68" y="168.6" font-size="9.1" text-anchor="middle" font-family='"Liberation Sans", sans-serif' fill="#222222" font-weight="normal" >200</text>
<line x1="333.82" y1="158.2" x2="333.82" y2="156.4" stroke="#3c3c3c" stroke-width="1.1"/>
<line x1="351.96" y1="158.2" x2="351.96" y2="155.6" stroke="#3c3c3c" stroke-width="1.1"/>
<text x="351.96" y="168.6" font-size="9.1" text-anchor="middle" font-family='"Liberation Sans", sans-serif' fill="#222222" font-weight="normal" >400</text>
<line x1="370.1" y1="158.2" x2="370.1" y2="156.4" stroke="#3c3c3c" stroke-width="1.1"/>
<line x1="388.24" y1="158.2" x2="388.24" y2="155.6" stroke="#3c3c3c" stroke-width="1.1"/>
<text x="388.24" y="168.6" font-size="9.1" text-anchor="middle" font-family='"Liberation Sans", sans-serif' fill="#222222" font-weight="normal" >600</text>
<line x1="406.38" y1="158.2" x2="406.38" y2="156.4" stroke="#3c3c3c" stroke-width="1.1"/>
<line x1="424.52" y1="158.2" x2="424.52" y2="155.6" stroke="#3c3c3c" stroke-width="1.1"/>
<text x="424.52" y="168.6" font-size="9.1" text-anchor="middle" font-family='"Liberation Sans", sans-serif' fill="#222222" font-weight="normal" >800</text>
<line x1="442.66" y1="158.2" x2="442.66" y2="156.4" stroke="#3c3c3c" stroke-width="1.1"/>
<line x1="460.8" y1="158.2" x2="460.8" y2="155.6" stroke="#3c3c3c" stroke-width="1.1"/>
<text x="460.8" y="168.6" font-size="9.1" text-anchor="middle" font-family='"Liberation Sans", sans-serif' fill="#222222" font-weight="normal" >1000</text>
<line x1="279.4" y1="143.13" x2="281.2" y2="143.13" stroke="#3c3c3c" stroke-width="1.1"/>
<line x1="279.4" y1="128.06" x2="282" y2="128.06" stroke="#3c3c3c" stroke-width="1.1"/>
<line x1="279.4" y1="112.99" x2="281.2" y2="112.99" stroke="#3c3c3c" stroke-width="1.1"/>
<line x1="279.4" y1="97.92" x2="282" y2="97.92" stroke="#3c3c3c" stroke-width="1.1"/>
<line x1="279.4" y1="82.85" x2="281.2" y2="82.85" stroke="#3c3c3c" stroke-width="1.1"/>
<line x1="279.4" y1="67.78" x2="282" y2="67.78" stroke="#3c3c3c" stroke-width="1.1"/>
<line x1="279.4" y1="52.71" x2="281.2" y2="52.71" stroke="#3c3c3c" stroke-width="1.1"/>
<line x1="279.4" y1="37.64" x2="282" y2="37.64" stroke="#3c3c3c" stroke-width="1.1"/>
<line x1="279.4" y1="22.57" x2="281.2" y2="22.57" stroke="#3c3c3c" stroke-width="1.1"/>
<line x1="279.4" y1="7.5" x2="282" y2="7.5" stroke="#3c3c3c" stroke-width="1.1"/>
<text x="275.8" y="161.35" font-size="9.1" text-anchor="end" font-family='"Liberation Sans", sans-serif' fill="#222222" font-weight="normal" >0.0</text>
<text x="275.8" y="131.21" font-size="9.1" text-anchor="end" font-family='"Liberation Sans", sans-serif' fill="#222222" font-weight="normal" >0.2</text>
<text x="275.8" y="101.07" font-size="9.1" text-anchor="end" font-family='"Liberation Sans", sans-serif' fill="#222222" font-weight="normal" >0.4</text>
<text x="275.8" y="70.93" font-size="9.1" text-anchor="end" font-family='"Liberation Sans", sans-serif' fill="#222222" font-weight="normal" >0.6</text>
<text x="275.8" y="40.79" font-size="9.1" text-anchor="end" font-family='"Liberation Sans", sans-serif' fill="#222222" font-weight="normal" >0.8</text>
<text x="275.8" y="10.65" font-size="9.1" text-anchor="end" font-family='"Liberation Sans", sans-serif' fill="#222222" font-weight="normal" >1.0</text>
<text x="369.8" y="181.8" font-size="11.6" text-anchor="middle" font-family='"Liberation Sans", sans-serif' fill="#222222" font-weight="normal" >Time (ns)</text>
<text x="260" y="82.8" font-size="11.6" text-anchor="middle" font-family='"Liberation Sans", sans-serif' fill="#222222" font-weight="normal" transform="rotate(-90 260.0 82.8)">Population</text>
<line x1="400.1" y1="39" x2="414.8" y2="39" stroke="#42428e" stroke-width="1.35"/>
<line x1="400.1" y1="51.9" x2="415.5" y2="51.9" stroke="#ea7a3a" stroke-width="1.7" stroke-dasharray="2.5,3.8"/>
<text transform="translate(423.3 42.3) scale(1 1.1)" font-size="9.5" font-family='"Liberation Mono", monospace' fill="#262626" stroke="#262626" stroke-width="0.15">DFT</text>
<text transform="translate(423.3 55.3) scale(1 1.1)" font-size="9.5" font-family='"Liberation Mono", monospace' fill="#262626" stroke="#262626" stroke-width="0.15">N<tspan font-size="5.9" dy="-3.3">2</tspan><tspan dy="3.3">AMD</tspan></text>
<text x="240.8" y="8.8" font-size="14.5" text-anchor="start" font-family='"Liberation Sans", sans-serif' fill="#111" font-weight="bold" >c</text>
<defs><radialGradient id="gcu" cx="0.5" cy="0.5" r="0.5"><stop offset="0" stop-color="#fffaf4"/><stop offset="0.3" stop-color="#ecc09a"/><stop offset="0.7" stop-color="#cc8c5c"/><stop offset="1" stop-color="#a86e46"/></radialGradient><radialGradient id="gpu" cx="0.5" cy="0.5" r="0.5"><stop offset="0" stop-color="#e4e0ff"/><stop offset="0.45" stop-color="#a090ee"/><stop offset="1" stop-color="#6c5cd0"/></radialGradient><radialGradient id="ggr" cx="0.5" cy="0.5" r="0.5"><stop offset="0" stop-color="#f4fff0"/><stop offset="0.4" stop-color="#a8e090"/><stop offset="1" stop-color="#60b050"/></radialGradient><radialGradient id="gpk" cx="0.5" cy="0.5" r="0.5"><stop offset="0" stop-color="#fff8ff"/><stop offset="0.45" stop-color="#f0c8ee"/><stop offset="1" stop-color="#c47cc0"/></radialGradient></defs>
<rect x="375.3" y="107.5" width="31.2" height="21" fill="none" stroke="#e6e6e6" stroke-width="0.6"/>
<line x1="390.8" y1="108.1" x2="384.9" y2="98" stroke="#9a9a9a" stroke-width="1.2"/>
<line x1="390.8" y1="108.1" x2="396.9" y2="98" stroke="#9a9a9a" stroke-width="1.2"/>
<line x1="390.8" y1="108.1" x2="381.3" y2="108.1" stroke="#9a9a9a" stroke-width="1.2"/>
<line x1="390.8" y1="108.1" x2="400.2" y2="108.1" stroke="#9a9a9a" stroke-width="1.2"/>
<line x1="390.8" y1="108.1" x2="384.9" y2="117.8" stroke="#9a9a9a" stroke-width="1.2"/>
<line x1="390.8" y1="108.1" x2="396.9" y2="117.8" stroke="#9a9a9a" stroke-width="1.2"/>
<line x1="375.3" y1="117.8" x2="368.9" y2="108.1" stroke="#9a9a9a" stroke-width="1.2"/>
<line x1="375.3" y1="117.8" x2="381.3" y2="108.1" stroke="#9a9a9a" stroke-width="1.2"/>
<line x1="375.3" y1="117.8" x2="365.5" y2="117.8" stroke="#9a9a9a" stroke-width="1.2"/>
<line x1="375.3" y1="117.8" x2="384.9" y2="117.8" stroke="#9a9a9a" stroke-width="1.2"/>
<line x1="375.3" y1="117.8" x2="368.9" y2="128.2" stroke="#9a9a9a" stroke-width="1.2"/>
<line x1="375.3" y1="117.8" x2="381.3" y2="128.2" stroke="#9a9a9a" stroke-width="1.2"/>
<line x1="406.5" y1="117.8" x2="400.2" y2="108.1" stroke="#9a9a9a" stroke-width="1.2"/>
<line x1="406.5" y1="117.8" x2="412.6" y2="108.1" stroke="#9a9a9a" stroke-width="1.2"/>
<line x1="406.5" y1="117.8" x2="396.9" y2="117.8" stroke="#9a9a9a" stroke-width="1.2"/>
<line x1="406.5" y1="117.8" x2="416.2" y2="117.8" stroke="#9a9a9a" stroke-width="1.2"/>
<line x1="406.5" y1="117.8" x2="400.2" y2="128.2" stroke="#9a9a9a" stroke-width="1.2"/>
<line x1="406.5" y1="117.8" x2="412.6" y2="128.2" stroke="#9a9a9a" stroke-width="1.2"/>
<line x1="390.8" y1="128.2" x2="384.9" y2="117.8" stroke="#9a9a9a" stroke-width="1.2"/>
<line x1="390.8" y1="128.2" x2="396.9" y2="117.8" stroke="#9a9a9a" stroke-width="1.2"/>
<line x1="390.8" y1="128.2" x2="381.3" y2="128.2" stroke="#9a9a9a" stroke-width="1.2"/>
<line x1="390.8" y1="128.2" x2="400.2" y2="128.2" stroke="#9a9a9a" stroke-width="1.2"/>
<line x1="390.8" y1="128.2" x2="384.9" y2="137.9" stroke="#9a9a9a" stroke-width="1.2"/>
<line x1="390.8" y1="128.2" x2="396.9" y2="137.9" stroke="#9a9a9a" stroke-width="1.2"/>
<circle cx="384.9" cy="98" r="1.9" fill="url(#gpu)"/>
<circle cx="396.9" cy="98" r="1.9" fill="url(#gpu)"/>
<circle cx="368.9" cy="108.1" r="1.9" fill="url(#gpu)"/>
<circle cx="381.3" cy="108.1" r="1.9" fill="url(#gpu)"/>
<circle cx="400.2" cy="108.1" r="1.9" fill="url(#gpu)"/>
<circle cx="412.6" cy="108.1" r="1.9" fill="url(#gpu)"/>
<circle cx="365.5" cy="117.8" r="1.9" fill="url(#gpu)"/>
<circle cx="384.9" cy="117.8" r="1.9" fill="url(#gpu)"/>
<circle cx="396.9" cy="117.8" r="1.9" fill="url(#gpu)"/>
<circle cx="416.2" cy="117.8" r="1.9" fill="url(#gpu)"/>
<circle cx="368.9" cy="128.2" r="1.9" fill="url(#gpu)"/>
<circle cx="381.3" cy="128.2" r="1.9" fill="url(#gpu)"/>
<circle cx="400.2" cy="128.2" r="1.9" fill="url(#gpu)"/>
<circle cx="412.6" cy="128.2" r="1.9" fill="url(#gpu)"/>
<circle cx="384.9" cy="137.9" r="1.9" fill="url(#gpu)"/>
<circle cx="396.9" cy="137.9" r="1.9" fill="url(#gpu)"/>
<circle cx="390.8" cy="108.1" r="3.7" fill="url(#gcu)"/>
<circle cx="375.3" cy="117.8" r="3.7" fill="url(#gcu)"/>
<circle cx="406.5" cy="117.8" r="3.7" fill="url(#gcu)"/>
<circle cx="390.8" cy="128.2" r="3.7" fill="url(#gcu)"/>
<defs><clipPath id="cd"><rect x="278.5" y="191.6" width="181.2" height="150.50000000000003"/></clipPath></defs>
<g clip-path="url(#cd)">
<path d="M278.5,342.1 L280.01,336.4 L281.52,330.92 L283.03,325.65 L284.54,320.58 L286.05,315.7 L287.56,311 L289.07,306.48 L290.58,302.13 L292.09,297.95 L293.6,293.93 L295.11,290.05 L296.62,286.33 L298.13,282.74 L299.64,279.29 L301.15,275.97 L302.66,272.78 L304.17,269.71 L305.68,266.75 L307.19,263.91 L308.7,261.17 L310.21,258.54 L311.72,256.01 L313.23,253.57 L314.74,251.22 L316.25,248.97 L317.76,246.8 L319.27,244.71 L320.78,242.7 L322.29,240.76 L323.8,238.9 L325.31,237.11 L326.82,235.39 L328.33,233.73 L329.84,232.14 L331.35,230.6 L332.86,229.13 L334.37,227.71 L335.88,226.34 L337.39,225.03 L338.9,223.76 L340.41,222.54 L341.92,221.37 L343.43,220.25 L344.94,219.16 L346.45,218.12 L347.96,217.12 L349.47,216.15 L350.98,215.22 L352.49,214.33 L354,213.47 L355.51,212.64 L357.02,211.84 L358.53,211.08 L360.04,210.34 L361.55,209.63 L363.06,208.95 L364.57,208.29 L366.08,207.66 L367.59,207.05 L369.1,206.47 L370.61,205.9 L372.12,205.36 L373.63,204.84 L375.14,204.34 L376.65,203.86 L378.16,203.39 L379.67,202.95 L381.18,202.52 L382.69,202.11 L384.2,201.71 L385.71,201.33 L387.22,200.96 L388.73,200.6 L390.24,200.26 L391.75,199.93 L393.26,199.62 L394.77,199.32 L396.28,199.02 L397.79,198.74 L399.3,198.47 L400.81,198.21 L402.32,197.96 L403.83,197.72 L405.34,197.49 L406.85,197.27 L408.36,197.05 L409.87,196.85 L411.38,196.65 L412.89,196.46 L414.4,196.27 L415.91,196.1 L417.42,195.93 L418.93,195.76 L420.44,195.6 L421.95,195.45 L423.46,195.31 L424.97,195.17 L426.48,195.03 L427.99,194.9 L429.5,194.78 L431.01,194.66 L432.52,194.54 L434.03,194.43 L435.54,194.32 L437.05,194.22 L438.56,194.12 L440.07,194.03 L441.58,193.93 L443.09,193.85 L444.6,193.76 L446.11,193.68 L447.62,193.6 L449.13,193.52 L450.64,193.45 L452.15,193.38 L453.66,193.31 L455.17,193.25 L456.68,193.19 L458.19,193.13 L459.7,193.07" fill="none" stroke="#40408e" stroke-width="1.5" stroke-linejoin="round" stroke-linecap="butt" />
<path d="M278.5,342.1 L280.01,335.96 L281.52,330.07 L283.03,324.42 L284.54,319 L286.05,313.8 L287.56,308.81 L289.07,304.03 L290.58,299.44 L292.09,295.04 L293.6,290.82 L295.11,286.77 L296.62,282.88 L298.13,279.16 L299.64,275.58 L301.15,272.16 L302.66,268.87 L304.17,265.72 L305.68,262.69 L307.19,259.79 L308.7,257.01 L310.21,254.34 L311.72,251.78 L313.23,249.32 L314.74,246.97 L316.25,244.71 L317.76,242.54 L319.27,240.46 L320.78,238.47 L322.29,236.55 L323.8,234.72 L325.31,232.96 L326.82,231.27 L328.33,229.65 L329.84,228.1 L331.35,226.61 L332.86,225.18 L334.37,223.81 L335.88,222.5 L337.39,221.24 L338.9,220.03 L340.41,218.87 L341.92,217.75 L343.43,216.69 L344.94,215.66 L346.45,214.68 L347.96,213.74 L349.47,212.83 L350.98,211.97 L352.49,211.14 L354,210.34 L355.51,209.57 L357.02,208.84 L358.53,208.14 L360.04,207.46 L361.55,206.82 L363.06,206.19 L364.57,205.6 L366.08,205.03 L367.59,204.48 L369.1,203.95 L370.61,203.45 L372.12,202.97 L373.63,202.5 L375.14,202.06 L376.65,201.63 L378.16,201.22 L379.67,200.83 L381.18,200.45 L382.69,200.09 L384.2,199.74 L385.71,199.41 L387.22,199.09 L388.73,198.79 L390.24,198.49 L391.75,198.21 L393.26,197.94 L394.77,197.68 L396.28,197.44 L397.79,197.2 L399.3,196.97 L400.81,196.75 L402.32,196.54 L403.83,196.34 L405.34,196.14 L406.85,195.96 L408.36,195.78 L409.87,195.61 L411.38,195.45 L412.89,195.29 L414.4,195.14 L415.91,194.99 L417.42,194.86 L418.93,194.72 L420.44,194.6 L421.95,194.47 L423.46,194.36 L424.97,194.24 L426.48,194.14 L427.99,194.03 L429.5,193.93 L431.01,193.84 L432.52,193.75 L434.03,193.66 L435.54,193.58 L437.05,193.49 L438.56,193.42 L440.07,193.34 L441.58,193.27 L443.09,193.2 L444.6,193.14 L446.11,193.08 L447.62,193.02 L449.13,192.96 L450.64,192.9 L452.15,192.85 L453.66,192.8 L455.17,192.75 L456.68,192.7 L458.19,192.66 L459.7,192.61" fill="none" stroke="#ea7a3a" stroke-width="1.7" stroke-linejoin="round" stroke-linecap="butt" stroke-dasharray="2.6,3.4" />
</g>
<rect x="278.5" y="191.6" width="181.2" height="150.5" fill="none" stroke="#3c3c3c" stroke-width="1.1"/>
<line x1="278.5" y1="342.1" x2="278.5" y2="339.5" stroke="#3c3c3c" stroke-width="1.1"/>
<text x="278.5" y="352.6" font-size="9.1" text-anchor="middle" font-family='"Liberation Sans", sans-serif' fill="#222222" font-weight="normal" >0</text>
<line x1="296.62" y1="342.1" x2="296.62" y2="340.3" stroke="#3c3c3c" stroke-width="1.1"/>
<line x1="314.74" y1="342.1" x2="314.74" y2="339.5" stroke="#3c3c3c" stroke-width="1.1"/>
<text x="314.74" y="352.6" font-size="9.1" text-anchor="middle" font-family='"Liberation Sans", sans-serif' fill="#222222" font-weight="normal" >20</text>
<line x1="332.86" y1="342.1" x2="332.86" y2="340.3" stroke="#3c3c3c" stroke-width="1.1"/>
<line x1="350.98" y1="342.1" x2="350.98" y2="339.5" stroke="#3c3c3c" stroke-width="1.1"/>
<text x="350.98" y="352.6" font-size="9.1" text-anchor="middle" font-family='"Liberation Sans", sans-serif' fill="#222222" font-weight="normal" >40</text>
<line x1="369.1" y1="342.1" x2="369.1" y2="340.3" stroke="#3c3c3c" stroke-width="1.1"/>
<line x1="387.22" y1="342.1" x2="387.22" y2="339.5" stroke="#3c3c3c" stroke-width="1.1"/>
<text x="387.22" y="352.6" font-size="9.1" text-anchor="middle" font-family='"Liberation Sans", sans-serif' fill="#222222" font-weight="normal" >60</text>
<line x1="405.34" y1="342.1" x2="405.34" y2="340.3" stroke="#3c3c3c" stroke-width="1.1"/>
<line x1="423.46" y1="342.1" x2="423.46" y2="339.5" stroke="#3c3c3c" stroke-width="1.1"/>
<text x="423.46" y="352.6" font-size="9.1" text-anchor="middle" font-family='"Liberation Sans", sans-serif' fill="#222222" font-weight="normal" >80</text>
<line x1="441.58" y1="342.1" x2="441.58" y2="340.3" stroke="#3c3c3c" stroke-width="1.1"/>
<line x1="459.7" y1="342.1" x2="459.7" y2="339.5" stroke="#3c3c3c" stroke-width="1.1"/>
<text x="459.7" y="352.6" font-size="9.1" text-anchor="middle" font-family='"Liberation Sans", sans-serif' fill="#222222" font-weight="normal" >100</text>
<line x1="278.5" y1="327.05" x2="280.3" y2="327.05" stroke="#3c3c3c" stroke-width="1.1"/>
<line x1="278.5" y1="312" x2="281.1" y2="312" stroke="#3c3c3c" stroke-width="1.1"/>
<line x1="278.5" y1="296.95" x2="280.3" y2="296.95" stroke="#3c3c3c" stroke-width="1.1"/>
<line x1="278.5" y1="281.9" x2="281.1" y2="281.9" stroke="#3c3c3c" stroke-width="1.1"/>
<line x1="278.5" y1="266.85" x2="280.3" y2="266.85" stroke="#3c3c3c" stroke-width="1.1"/>
<line x1="278.5" y1="251.8" x2="281.1" y2="251.8" stroke="#3c3c3c" stroke-width="1.1"/>
<line x1="278.5" y1="236.75" x2="280.3" y2="236.75" stroke="#3c3c3c" stroke-width="1.1"/>
<line x1="278.5" y1="221.7" x2="281.1" y2="221.7" stroke="#3c3c3c" stroke-width="1.1"/>
<line x1="278.5" y1="206.65" x2="280.3" y2="206.65" stroke="#3c3c3c" stroke-width="1.1"/>
<line x1="278.5" y1="191.6" x2="281.1" y2="191.6" stroke="#3c3c3c" stroke-width="1.1"/>
<text x="274.9" y="345.25" font-size="9.1" text-anchor="end" font-family='"Liberation Sans", sans-serif' fill="#222222" font-weight="normal" >0.0</text>
<text x="274.9" y="315.15" font-size="9.1" text-anchor="end" font-family='"Liberation Sans", sans-serif' fill="#222222" font-weight="normal" >0.2</text>
<text x="274.9" y="285.05" font-size="9.1" text-anchor="end" font-family='"Liberation Sans", sans-serif' fill="#222222" font-weight="normal" >0.4</text>
<text x="274.9" y="254.95" font-size="9.1" text-anchor="end" font-family='"Liberation Sans", sans-serif' fill="#222222" font-weight="normal" >0.6</text>
<text x="274.9" y="224.85" font-size="9.1" text-anchor="end" font-family='"Liberation Sans", sans-serif' fill="#222222" font-weight="normal" >0.8</text>
<text x="274.9" y="194.75" font-size="9.1" text-anchor="end" font-family='"Liberation Sans", sans-serif' fill="#222222" font-weight="normal" >1.0</text>
<text x="368.8" y="366.1" font-size="11.6" text-anchor="middle" font-family='"Liberation Sans", sans-serif' fill="#222222" font-weight="normal" >Time (ns)</text>
<text x="259.2" y="266.8" font-size="11.6" text-anchor="middle" font-family='"Liberation Sans", sans-serif' fill="#222222" font-weight="normal" transform="rotate(-90 259.2 266.8)">Population</text>
<line x1="399" y1="214.1" x2="413.8" y2="214.1" stroke="#42428e" stroke-width="1.35"/>
<line x1="399.0" y1="227.2" x2="414.4" y2="227.2" stroke="#ea7a3a" stroke-width="1.7" stroke-dasharray="2.5,3.8"/>
<text transform="translate(422.3 217.7) scale(1 1.1)" font-size="9.5" font-family='"Liberation Mono", monospace' fill="#262626" stroke="#262626" stroke-width="0.15">DFT</text>
<text transform="translate(422.3 230.6) scale(1 1.1)" font-size="9.5" font-family='"Liberation Mono", monospace' fill="#262626" stroke="#262626" stroke-width="0.15">N<tspan font-size="5.9" dy="-3.3">2</tspan><tspan dy="3.3">AMD</tspan></text>
<text x="240.9" y="190.2" font-size="14.5" text-anchor="start" font-family='"Liberation Sans", sans-serif' fill="#111" font-weight="bold" >d</text>
<rect x="375.4" y="282.1" width="29.8" height="30.1" fill="none" stroke="#d8d8d8" stroke-width="0.6"/>
<line x1="375.4" y1="282.1" x2="367.8" y2="275.1" stroke="#727272" stroke-width="1.0"/>
<line x1="375.4" y1="282.1" x2="367.8" y2="289.9" stroke="#727272" stroke-width="1.0"/>
<line x1="375.4" y1="282.1" x2="382.8" y2="275.1" stroke="#727272" stroke-width="1.0"/>
<line x1="375.4" y1="282.1" x2="382.8" y2="289.9" stroke="#727272" stroke-width="1.0"/>
<line x1="375.4" y1="297" x2="367.8" y2="289.9" stroke="#727272" stroke-width="1.0"/>
<line x1="375.4" y1="297" x2="367.8" y2="304.5" stroke="#727272" stroke-width="1.0"/>
<line x1="375.4" y1="297" x2="382.8" y2="289.9" stroke="#727272" stroke-width="1.0"/>
<line x1="375.4" y1="297" x2="382.8" y2="304.5" stroke="#727272" stroke-width="1.0"/>
<line x1="375.4" y1="312.2" x2="367.8" y2="304.5" stroke="#727272" stroke-width="1.0"/>
<line x1="375.4" y1="312.2" x2="367.8" y2="319.5" stroke="#727272" stroke-width="1.0"/>
<line x1="375.4" y1="312.2" x2="382.8" y2="304.5" stroke="#727272" stroke-width="1.0"/>
<line x1="375.4" y1="312.2" x2="382.8" y2="319.5" stroke="#727272" stroke-width="1.0"/>
<line x1="390.1" y1="282.1" x2="382.8" y2="275.1" stroke="#727272" stroke-width="1.0"/>
<line x1="390.1" y1="282.1" x2="382.8" y2="289.9" stroke="#727272" stroke-width="1.0"/>
<line x1="390.1" y1="282.1" x2="397.7" y2="275.1" stroke="#727272" stroke-width="1.0"/>
<line x1="390.1" y1="282.1" x2="397.7" y2="289.9" stroke="#727272" stroke-width="1.0"/>
<line x1="390.1" y1="297" x2="382.8" y2="289.9" stroke="#727272" stroke-width="1.0"/>
<line x1="390.1" y1="297" x2="382.8" y2="304.5" stroke="#727272" stroke-width="1.0"/>
<line x1="390.1" y1="297" x2="397.7" y2="289.9" stroke="#727272" stroke-width="1.0"/>
<line x1="390.1" y1="297" x2="397.7" y2="304.5" stroke="#727272" stroke-width="1.0"/>
<line x1="390.1" y1="312.2" x2="382.8" y2="304.5" stroke="#727272" stroke-width="1.0"/>
<line x1="390.1" y1="312.2" x2="382.8" y2="319.5" stroke="#727272" stroke-width="1.0"/>
<line x1="390.1" y1="312.2" x2="397.7" y2="304.5" stroke="#727272" stroke-width="1.0"/>
<line x1="390.1" y1="312.2" x2="397.7" y2="319.5" stroke="#727272" stroke-width="1.0"/>
<line x1="405.2" y1="282.1" x2="397.7" y2="275.1" stroke="#727272" stroke-width="1.0"/>
<line x1="405.2" y1="282.1" x2="397.7" y2="289.9" stroke="#727272" stroke-width="1.0"/>
<line x1="405.2" y1="282.1" x2="412.5" y2="275.1" stroke="#727272" stroke-width="1.0"/>
<line x1="405.2" y1="282.1" x2="412.5" y2="289.9" stroke="#727272" stroke-width="1.0"/>
<line x1="405.2" y1="297" x2="397.7" y2="289.9" stroke="#727272" stroke-width="1.0"/>
<line x1="405.2" y1="297" x2="397.7" y2="304.5" stroke="#727272" stroke-width="1.0"/>
<line x1="405.2" y1="297" x2="412.5" y2="289.9" stroke="#727272" stroke-width="1.0"/>
<line x1="405.2" y1="297" x2="412.5" y2="304.5" stroke="#727272" stroke-width="1.0"/>
<line x1="405.2" y1="312.2" x2="397.7" y2="304.5" stroke="#727272" stroke-width="1.0"/>
<line x1="405.2" y1="312.2" x2="397.7" y2="319.5" stroke="#727272" stroke-width="1.0"/>
<line x1="405.2" y1="312.2" x2="412.5" y2="304.5" stroke="#727272" stroke-width="1.0"/>
<line x1="405.2" y1="312.2" x2="412.5" y2="319.5" stroke="#727272" stroke-width="1.0"/>
<circle cx="367.8" cy="275.1" r="2.4" fill="url(#gpk)"/>
<circle cx="367.8" cy="289.9" r="2.4" fill="url(#gpk)"/>
<circle cx="367.8" cy="304.5" r="2.4" fill="url(#gpk)"/>
<circle cx="367.8" cy="319.5" r="2.4" fill="url(#gpk)"/>
<circle cx="382.8" cy="275.1" r="2.4" fill="url(#gpk)"/>
<circle cx="382.8" cy="289.9" r="2.4" fill="url(#gpk)"/>
<circle cx="382.8" cy="304.5" r="2.4" fill="url(#gpk)"/>
<circle cx="382.8" cy="319.5" r="2.4" fill="url(#gpk)"/>
<circle cx="397.7" cy="275.1" r="2.4" fill="url(#gpk)"/>
<circle cx="397.7" cy="289.9" r="2.4" fill="url(#gpk)"/>
<circle cx="397.7" cy="304.5" r="2.4" fill="url(#gpk)"/>
<circle cx="397.7" cy="319.5" r="2.4" fill="url(#gpk)"/>
<circle cx="412.5" cy="275.1" r="2.4" fill="url(#gpk)"/>
<circle cx="412.5" cy="289.9" r="2.4" fill="url(#gpk)"/>
<circle cx="412.5" cy="304.5" r="2.4" fill="url(#gpk)"/>
<circle cx="412.5" cy="319.5" r="2.4" fill="url(#gpk)"/>
<circle cx="375.4" cy="282.1" r="3.0" fill="url(#ggr)"/>
<circle cx="375.4" cy="297.0" r="3.0" fill="url(#ggr)"/>
<circle cx="375.4" cy="312.2" r="3.0" fill="url(#ggr)"/>
<circle cx="390.1" cy="282.1" r="3.0" fill="url(#ggr)"/>
<circle cx="390.1" cy="297.0" r="3.0" fill="url(#ggr)"/>
<circle cx="390.1" cy="312.2" r="3.0" fill="url(#ggr)"/>
<circle cx="405.2" cy="282.1" r="3.0" fill="url(#ggr)"/>
<circle cx="405.2" cy="297.0" r="3.0" fill="url(#ggr)"/>
<circle cx="405.2" cy="312.2" r="3.0" fill="url(#ggr)"/>
<rect x="530.4" y="227.4" width="27.2" height="75.9" fill="#ecb898" stroke="#333" stroke-width="1.1"/>
<rect x="557.6" y="108.3" width="27.8" height="195" fill="#b2b2dc" stroke="#333" stroke-width="1.1"/>
<rect x="614" y="201.8" width="28.4" height="101.5" fill="#ecb898" stroke="#333" stroke-width="1.1"/>
<rect x="642.4" y="68.6" width="27.4" height="234.7" fill="#b2b2dc" stroke="#333" stroke-width="1.1"/>
<rect x="515.5" y="49.6" width="168.9" height="253.7" fill="none" stroke="#3c3c3c" stroke-width="1.1"/>
<line x1="515.5" y1="303.3" x2="512.9" y2="303.3" stroke="#3c3c3c" stroke-width="1.1"/>
<text x="510.9" y="306.2" font-size="8.0" text-anchor="end" font-family='"Liberation Sans", sans-serif' fill="#222222">10<tspan font-size="5.4" dx="0.7" dy="-3.5">0</tspan></text>
<line x1="515.5" y1="293.1" x2="513.9" y2="293.1" stroke="#3c3c3c" stroke-width="0.9"/>
<line x1="515.5" y1="282.89" x2="513.9" y2="282.89" stroke="#3c3c3c" stroke-width="0.9"/>
<line x1="515.5" y1="276.92" x2="513.9" y2="276.92" stroke="#3c3c3c" stroke-width="0.9"/>
<line x1="515.5" y1="272.69" x2="513.9" y2="272.69" stroke="#3c3c3c" stroke-width="0.9"/>
<line x1="515.5" y1="269.4" x2="512.9" y2="269.4" stroke="#3c3c3c" stroke-width="1.1"/>
<text x="510.9" y="272.3" font-size="8.0" text-anchor="end" font-family='"Liberation Sans", sans-serif' fill="#222222">10<tspan font-size="5.4" dx="0.7" dy="-3.5">1</tspan></text>
<line x1="515.5" y1="259.2" x2="513.9" y2="259.2" stroke="#3c3c3c" stroke-width="0.9"/>
<line x1="515.5" y1="248.99" x2="513.9" y2="248.99" stroke="#3c3c3c" stroke-width="0.9"/>
<line x1="515.5" y1="243.02" x2="513.9" y2="243.02" stroke="#3c3c3c" stroke-width="0.9"/>
<line x1="515.5" y1="238.79" x2="513.9" y2="238.79" stroke="#3c3c3c" stroke-width="0.9"/>
<line x1="515.5" y1="235.5" x2="512.9" y2="235.5" stroke="#3c3c3c" stroke-width="1.1"/>
<text x="510.9" y="238.4" font-size="8.0" text-anchor="end" font-family='"Liberation Sans", sans-serif' fill="#222222">10<tspan font-size="5.4" dx="0.7" dy="-3.5">2</tspan></text>
<line x1="515.5" y1="225.3" x2="513.9" y2="225.3" stroke="#3c3c3c" stroke-width="0.9"/>
<line x1="515.5" y1="215.09" x2="513.9" y2="215.09" stroke="#3c3c3c" stroke-width="0.9"/>
<line x1="515.5" y1="209.12" x2="513.9" y2="209.12" stroke="#3c3c3c" stroke-width="0.9"/>
<line x1="515.5" y1="204.89" x2="513.9" y2="204.89" stroke="#3c3c3c" stroke-width="0.9"/>
<line x1="515.5" y1="201.6" x2="512.9" y2="201.6" stroke="#3c3c3c" stroke-width="1.1"/>
<text x="510.9" y="204.5" font-size="8.0" text-anchor="end" font-family='"Liberation Sans", sans-serif' fill="#222222">10<tspan font-size="5.4" dx="0.7" dy="-3.5">3</tspan></text>
<line x1="515.5" y1="191.4" x2="513.9" y2="191.4" stroke="#3c3c3c" stroke-width="0.9"/>
<line x1="515.5" y1="181.19" x2="513.9" y2="181.19" stroke="#3c3c3c" stroke-width="0.9"/>
<line x1="515.5" y1="175.22" x2="513.9" y2="175.22" stroke="#3c3c3c" stroke-width="0.9"/>
<line x1="515.5" y1="170.99" x2="513.9" y2="170.99" stroke="#3c3c3c" stroke-width="0.9"/>
<line x1="515.5" y1="167.7" x2="512.9" y2="167.7" stroke="#3c3c3c" stroke-width="1.1"/>
<text x="510.9" y="170.6" font-size="8.0" text-anchor="end" font-family='"Liberation Sans", sans-serif' fill="#222222">10<tspan font-size="5.4" dx="0.7" dy="-3.5">4</tspan></text>
<line x1="515.5" y1="157.5" x2="513.9" y2="157.5" stroke="#3c3c3c" stroke-width="0.9"/>
<line x1="515.5" y1="147.29" x2="513.9" y2="147.29" stroke="#3c3c3c" stroke-width="0.9"/>
<line x1="515.5" y1="141.32" x2="513.9" y2="141.32" stroke="#3c3c3c" stroke-width="0.9"/>
<line x1="515.5" y1="137.09" x2="513.9" y2="137.09" stroke="#3c3c3c" stroke-width="0.9"/>
<line x1="515.5" y1="133.8" x2="512.9" y2="133.8" stroke="#3c3c3c" stroke-width="1.1"/>
<text x="510.9" y="136.7" font-size="8.0" text-anchor="end" font-family='"Liberation Sans", sans-serif' fill="#222222">10<tspan font-size="5.4" dx="0.7" dy="-3.5">5</tspan></text>
<line x1="515.5" y1="123.6" x2="513.9" y2="123.6" stroke="#3c3c3c" stroke-width="0.9"/>
<line x1="515.5" y1="113.39" x2="513.9" y2="113.39" stroke="#3c3c3c" stroke-width="0.9"/>
<line x1="515.5" y1="107.42" x2="513.9" y2="107.42" stroke="#3c3c3c" stroke-width="0.9"/>
<line x1="515.5" y1="103.19" x2="513.9" y2="103.19" stroke="#3c3c3c" stroke-width="0.9"/>
<line x1="515.5" y1="99.9" x2="512.9" y2="99.9" stroke="#3c3c3c" stroke-width="1.1"/>
<text x="510.9" y="102.8" font-size="8.0" text-anchor="end" font-family='"Liberation Sans", sans-serif' fill="#222222">10<tspan font-size="5.4" dx="0.7" dy="-3.5">6</tspan></text>
<line x1="515.5" y1="89.7" x2="513.9" y2="89.7" stroke="#3c3c3c" stroke-width="0.9"/>
<line x1="515.5" y1="79.49" x2="513.9" y2="79.49" stroke="#3c3c3c" stroke-width="0.9"/>
<line x1="515.5" y1="73.52" x2="513.9" y2="73.52" stroke="#3c3c3c" stroke-width="0.9"/>
<line x1="515.5" y1="69.29" x2="513.9" y2="69.29" stroke="#3c3c3c" stroke-width="0.9"/>
<line x1="515.5" y1="66" x2="512.9" y2="66" stroke="#3c3c3c" stroke-width="1.1"/>
<text x="510.9" y="68.9" font-size="8.0" text-anchor="end" font-family='"Liberation Sans", sans-serif' fill="#222222">10<tspan font-size="5.4" dx="0.7" dy="-3.5">7</tspan></text>
<line x1="515.5" y1="55.8" x2="513.9" y2="55.8" stroke="#3c3c3c" stroke-width="0.9"/>
<text x="557.6" y="315.8" font-size="11.3" text-anchor="middle" font-family='"Liberation Sans", sans-serif' fill="#222222" font-weight="normal" >2×2×2</text>
<text x="642.1" y="315.8" font-size="11.3" text-anchor="middle" font-family='"Liberation Sans", sans-serif' fill="#222222" font-weight="normal" >3×3×4</text>
<text x="495.3" y="176.3" font-size="11.3" text-anchor="middle" font-family='"Liberation Sans", sans-serif' fill="#222222" font-weight="normal" transform="rotate(-90 495.3 176.3)">Computational time (core·second)</text>
<rect x="529.6" y="64.6" width="22.0" height="10.6" fill="#ecb898" stroke="#333" stroke-width="1"/>
<rect x="529.6" y="80.5" width="22.0" height="10.6" fill="#b2b2dc" stroke="#333" stroke-width="1"/>
<text transform="translate(557.1 73.6) scale(1 1.1)" font-size="9.5" font-family='"Liberation Mono", monospace' fill="#262626" stroke="#262626" stroke-width="0.15">N<tspan font-size="5.9" dy="-3.3">2</tspan><tspan dy="3.3">AMD</tspan></text>
<text transform="translate(557.1 89) scale(1 1.1)" font-size="9.5" font-family='"Liberation Mono", monospace' fill="#262626" stroke="#262626" stroke-width="0.15">DFT</text>
<text x="479.9" y="51" font-size="14.5" text-anchor="start" font-family='"Liberation Sans", sans-serif' fill="#111" font-weight="bold" >e</text></svg>
</body></html>
